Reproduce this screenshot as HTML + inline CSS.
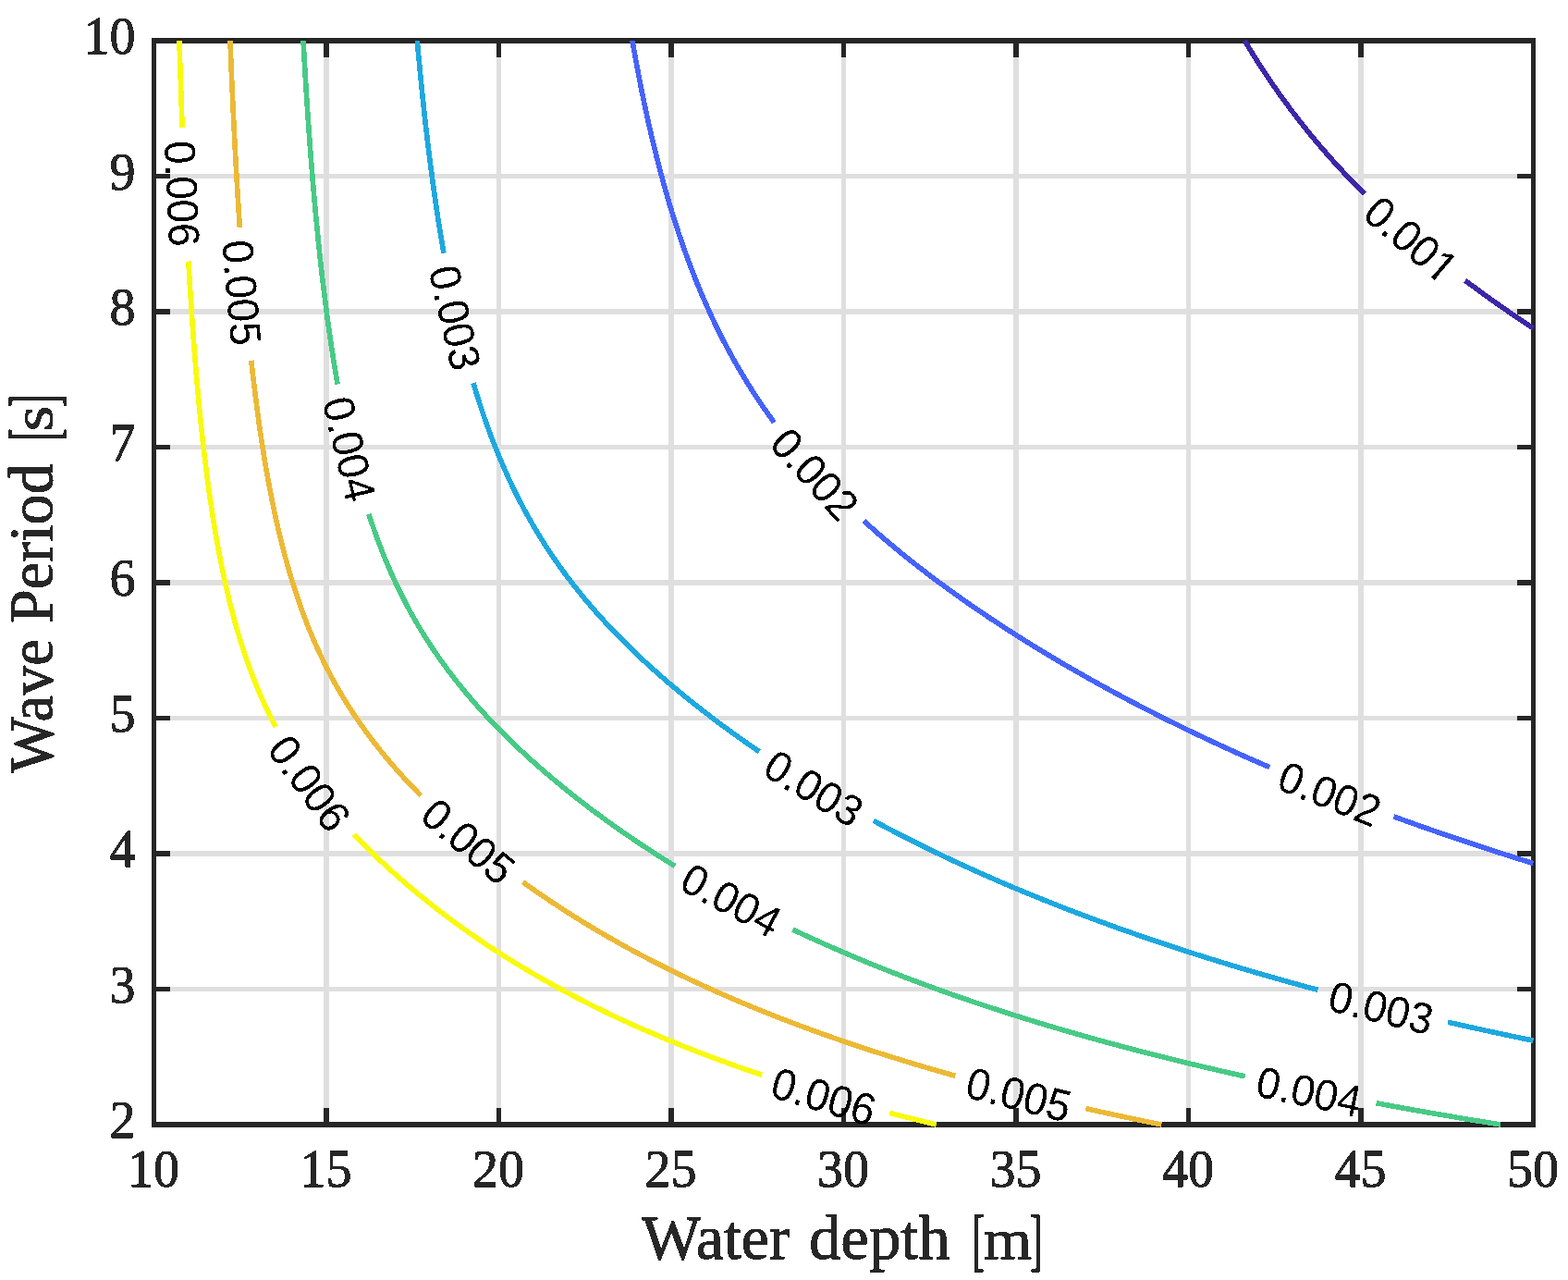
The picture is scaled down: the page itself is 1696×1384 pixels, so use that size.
<!DOCTYPE html>
<html><head><meta charset="utf-8"><title>Wave contour</title><style>html,body{margin:0;padding:0;background:#fff;}svg{display:block;}</style></head><body>
<svg width="1696" height="1384" viewBox="0 0 1696 1384" shape-rendering="crispEdges">
<defs><filter id="bin" filterUnits="userSpaceOnUse" x="0" y="0" width="1696" height="1384"><feComponentTransfer><feFuncA type="discrete" tableValues="0 1"/></feComponentTransfer></filter><clipPath id="c"><rect x="166.50" y="44.00" width="1492.00" height="1172.00"/></clipPath></defs>
<rect width="1696" height="1384" fill="#fff"/>
<path d="M353.00 44.00V1216.00 M539.50 44.00V1216.00 M726.00 44.00V1216.00 M912.50 44.00V1216.00 M1099.00 44.00V1216.00 M1285.50 44.00V1216.00 M1472.00 44.00V1216.00 M166.50 1069.50H1658.50 M166.50 923.00H1658.50 M166.50 776.50H1658.50 M166.50 630.00H1658.50 M166.50 483.50H1658.50 M166.50 337.00H1658.50 M166.50 190.50H1658.50" stroke="#DFDFDF" stroke-width="5.3" fill="none"/>
<path d="M353.00 1216.00V1198.30 M353.00 44.00V61.70 M539.50 1216.00V1198.30 M539.50 44.00V61.70 M726.00 1216.00V1198.30 M726.00 44.00V61.70 M912.50 1216.00V1198.30 M912.50 44.00V61.70 M1099.00 1216.00V1198.30 M1099.00 44.00V61.70 M1285.50 1216.00V1198.30 M1285.50 44.00V61.70 M1472.00 1216.00V1198.30 M1472.00 44.00V61.70 M166.50 1069.50H184.20 M1658.50 1069.50H1640.80 M166.50 923.00H184.20 M1658.50 923.00H1640.80 M166.50 776.50H184.20 M1658.50 776.50H1640.80 M166.50 630.00H184.20 M1658.50 630.00H1640.80 M166.50 483.50H184.20 M1658.50 483.50H1640.80 M166.50 337.00H184.20 M1658.50 337.00H1640.80 M166.50 190.50H184.20 M1658.50 190.50H1640.80" stroke="#262626" stroke-width="5.3" fill="none"/>
<rect x="166.50" y="44.00" width="1492.00" height="1172.00" fill="none" stroke="#262626" stroke-width="5.3"/>
<g fill="none" stroke-width="5.6" stroke-linejoin="round">
<path d="M1658.50 355.02 L1657.24 354.19 L1655.98 353.36 L1654.73 352.53 L1653.48 351.70 L1652.15 350.82 L1650.82 349.94 L1649.50 349.06 L1648.18 348.18 L1646.87 347.30 L1645.55 346.41 L1644.24 345.53 L1642.94 344.65 L1641.63 343.77 L1640.33 342.89 L1639.03 342.01 L1637.74 341.13 L1636.44 340.25 L1635.15 339.36 L1633.87 338.48 L1632.58 337.60 L1631.30 336.72 L1630.02 335.84 L1628.75 334.96 L1627.48 334.08 L1626.21 333.20 L1624.94 332.32 L1623.68 331.43 L1622.41 330.55 L1621.16 329.67 L1619.90 328.79 L1618.65 327.91 L1617.40 327.03 L1616.15 326.15 L1614.91 325.27 L1613.67 324.38 L1612.43 323.50 L1611.20 322.62 L1609.97 321.74 L1608.74 320.86 L1607.51 319.98 L1606.29 319.10 L1605.07 318.22 L1603.85 317.33 L1602.64 316.45 L1601.35 315.52 L1600.07 314.59 L1598.80 313.65 L1597.52 312.72 L1596.25 311.79 L1594.99 310.85 L1593.72 309.92 L1592.46 308.99 L1591.21 308.06 L1589.95 307.12 L1588.70 306.19 L1587.45 305.26 L1586.21 304.32 L1584.97 303.39 L1584.90 303.34" stroke="#3E26A8"/>
<path d="M1475.76 209.51 L1474.67 208.43 L1473.58 207.34 L1472.50 206.25 L1471.41 205.16 L1470.34 204.07 L1469.26 202.98 L1468.19 201.89 L1467.12 200.81 L1466.06 199.72 L1465.00 198.63 L1463.94 197.54 L1462.89 196.45 L1461.84 195.36 L1460.79 194.27 L1459.75 193.19 L1458.71 192.10 L1457.68 191.01 L1456.60 189.87 L1455.52 188.73 L1454.45 187.59 L1453.38 186.45 L1452.32 185.31 L1451.25 184.17 L1450.20 183.03 L1449.14 181.89 L1448.09 180.74 L1447.05 179.60 L1446.01 178.46 L1444.97 177.32 L1443.93 176.18 L1442.90 175.04 L1441.88 173.90 L1440.85 172.76 L1439.83 171.62 L1438.82 170.48 L1437.81 169.34 L1436.80 168.20 L1435.79 167.06 L1434.79 165.92 L1433.79 164.78 L1432.80 163.64 L1431.81 162.50 L1430.82 161.36 L1429.84 160.22 L1428.86 159.08 L1427.88 157.94 L1426.87 156.74 L1425.85 155.55 L1424.85 154.36 L1423.84 153.17 L1422.84 151.98 L1421.84 150.78 L1420.85 149.59 L1419.86 148.40 L1418.87 147.21 L1417.89 146.01 L1416.91 144.82 L1415.94 143.63 L1414.97 142.44 L1414.00 141.25 L1413.04 140.05 L1412.08 138.86 L1411.12 137.67 L1410.17 136.48 L1409.22 135.28 L1408.27 134.09 L1407.33 132.90 L1406.39 131.71 L1405.46 130.52 L1404.53 129.32 L1403.60 128.13 L1402.68 126.94 L1401.76 125.75 L1400.84 124.55 L1399.93 123.36 L1398.98 122.12 L1398.03 120.87 L1397.09 119.63 L1396.15 118.39 L1395.22 117.14 L1394.29 115.90 L1393.36 114.65 L1392.44 113.41 L1391.52 112.17 L1390.60 110.92 L1389.69 109.68 L1388.78 108.43 L1387.88 107.19 L1386.97 105.94 L1386.08 104.70 L1385.18 103.46 L1384.29 102.21 L1383.40 100.97 L1382.52 99.72 L1381.64 98.48 L1380.76 97.24 L1379.89 95.99 L1379.02 94.75 L1378.15 93.50 L1377.29 92.26 L1376.43 91.02 L1375.57 89.77 L1374.72 88.53 L1373.87 87.28 L1373.03 86.04 L1372.18 84.80 L1371.34 83.55 L1370.47 82.26 L1369.60 80.96 L1368.74 79.66 L1367.88 78.37 L1367.02 77.07 L1366.17 75.78 L1365.32 74.48 L1364.47 73.18 L1363.63 71.89 L1362.79 70.59 L1361.96 69.30 L1361.12 68.00 L1360.29 66.70 L1359.47 65.41 L1358.65 64.11 L1357.83 62.82 L1357.01 61.52 L1356.20 60.22 L1355.39 58.93 L1354.58 57.63 L1353.78 56.34 L1352.98 55.04 L1352.18 53.75 L1351.39 52.45 L1350.60 51.15 L1349.82 49.86 L1349.03 48.56 L1348.25 47.27 L1347.47 45.97 L1346.70 44.67 L1346.30 44.00" stroke="#3E26A8"/>
<path d="M1658.50 933.55 L1657.06 933.10 L1655.62 932.66 L1654.19 932.21 L1652.75 931.77 L1650.84 931.18 L1648.94 930.58 L1647.04 929.99 L1645.14 929.40 L1643.25 928.80 L1641.36 928.21 L1639.48 927.62 L1637.60 927.02 L1635.72 926.43 L1633.85 925.84 L1631.98 925.25 L1630.11 924.65 L1628.25 924.06 L1626.39 923.47 L1624.54 922.87 L1622.69 922.28 L1620.84 921.69 L1619.00 921.09 L1617.16 920.50 L1615.32 919.91 L1613.49 919.32 L1611.66 918.72 L1609.84 918.13 L1608.02 917.54 L1606.20 916.94 L1604.39 916.35 L1602.58 915.76 L1600.77 915.16 L1598.97 914.57 L1597.17 913.98 L1595.37 913.38 L1593.58 912.79 L1591.79 912.20 L1590.01 911.61 L1588.22 911.01 L1586.45 910.42 L1584.67 909.83 L1582.90 909.23 L1581.13 908.64 L1579.37 908.05 L1577.61 907.45 L1575.85 906.86 L1574.10 906.27 L1572.35 905.68 L1570.60 905.08 L1568.86 904.49 L1567.12 903.90 L1565.38 903.30 L1563.65 902.71 L1561.92 902.12 L1560.19 901.52 L1558.47 900.93 L1556.75 900.34 L1555.04 899.75 L1553.32 899.15 L1551.61 898.56 L1549.91 897.97 L1548.20 897.37 L1546.51 896.78 L1544.81 896.19 L1543.12 895.59 L1541.43 895.00 L1539.74 894.41 L1538.06 893.81 L1536.38 893.22 L1534.70 892.63 L1533.03 892.04 L1531.36 891.44 L1529.69 890.85 L1528.03 890.26 L1526.36 889.66 L1524.71 889.07 L1523.05 888.48 L1521.40 887.88 L1519.75 887.29 L1518.11 886.70 L1516.47 886.11 L1514.83 885.51 L1513.19 884.92 L1511.56 884.33 L1509.93 883.73 L1508.31 883.14 L1507.49 882.84" stroke="#4563FA"/>
<path d="M1373.23 829.62 L1371.51 828.88 L1369.79 828.14 L1368.08 827.40 L1366.37 826.65 L1364.66 825.91 L1362.96 825.17 L1361.26 824.43 L1359.56 823.69 L1357.87 822.95 L1356.18 822.21 L1354.50 821.46 L1352.81 820.72 L1351.14 819.98 L1349.46 819.24 L1347.79 818.50 L1346.13 817.76 L1344.46 817.02 L1342.80 816.28 L1341.15 815.53 L1339.50 814.79 L1337.85 814.05 L1336.20 813.31 L1334.56 812.57 L1332.92 811.83 L1331.29 811.09 L1329.66 810.35 L1328.03 809.60 L1326.40 808.86 L1324.78 808.12 L1323.16 807.38 L1321.55 806.64 L1319.94 805.90 L1318.33 805.16 L1316.73 804.42 L1315.13 803.67 L1313.53 802.93 L1311.94 802.19 L1310.35 801.45 L1308.76 800.71 L1307.18 799.97 L1305.59 799.23 L1304.02 798.48 L1302.44 797.74 L1300.87 797.00 L1299.31 796.26 L1297.74 795.52 L1296.18 794.78 L1294.62 794.04 L1293.07 793.30 L1291.52 792.55 L1289.97 791.81 L1288.42 791.07 L1286.88 790.33 L1285.34 789.59 L1283.81 788.85 L1282.28 788.11 L1280.75 787.37 L1279.22 786.62 L1277.70 785.88 L1276.18 785.14 L1274.66 784.40 L1273.15 783.66 L1271.64 782.92 L1270.13 782.18 L1268.63 781.44 L1267.13 780.69 L1265.63 779.95 L1264.14 779.21 L1262.64 778.47 L1261.16 777.73 L1259.67 776.99 L1258.19 776.25 L1256.71 775.50 L1255.23 774.76 L1253.76 774.02 L1252.29 773.28 L1250.82 772.54 L1249.35 771.80 L1247.89 771.06 L1246.43 770.32 L1244.98 769.57 L1243.52 768.83 L1242.07 768.09 L1240.63 767.35 L1239.18 766.61 L1237.74 765.87 L1236.30 765.13 L1234.87 764.39 L1233.43 763.64 L1232.00 762.90 L1230.58 762.16 L1229.15 761.42 L1227.73 760.68 L1226.31 759.94 L1224.90 759.20 L1223.49 758.46 L1222.08 757.71 L1220.67 756.97 L1219.26 756.23 L1217.86 755.49 L1216.46 754.75 L1215.07 754.01 L1213.67 753.27 L1212.28 752.52 L1210.90 751.78 L1209.51 751.04 L1208.13 750.30 L1206.75 749.56 L1205.37 748.82 L1204.00 748.08 L1202.63 747.34 L1201.26 746.59 L1199.89 745.85 L1198.53 745.11 L1197.17 744.37 L1195.81 743.63 L1194.46 742.89 L1193.10 742.15 L1191.75 741.41 L1190.41 740.66 L1189.06 739.92 L1187.72 739.18 L1186.38 738.44 L1185.04 737.70 L1183.71 736.96 L1182.38 736.22 L1181.05 735.48 L1179.72 734.73 L1178.40 733.99 L1177.08 733.25 L1175.76 732.51 L1174.44 731.77 L1173.13 731.03 L1171.82 730.29 L1170.51 729.54 L1169.20 728.80 L1167.64 727.91 L1166.08 727.02 L1164.52 726.14 L1162.97 725.25 L1161.42 724.36 L1159.88 723.47 L1158.33 722.58 L1156.80 721.69 L1155.26 720.80 L1153.73 719.91 L1152.20 719.02 L1150.68 718.13 L1149.16 717.24 L1147.64 716.35 L1146.13 715.46 L1144.62 714.57 L1143.11 713.68 L1141.61 712.79 L1140.11 711.90 L1138.61 711.01 L1137.12 710.12 L1135.63 709.23 L1134.15 708.34 L1132.66 707.45 L1131.19 706.57 L1129.71 705.68 L1128.24 704.79 L1126.77 703.90 L1125.30 703.01 L1123.84 702.12 L1122.38 701.23 L1120.93 700.34 L1119.48 699.45 L1118.03 698.56 L1116.59 697.67 L1115.14 696.78 L1113.71 695.89 L1112.27 695.00 L1110.84 694.11 L1109.41 693.22 L1107.99 692.33 L1106.57 691.44 L1105.15 690.55 L1103.73 689.66 L1102.32 688.77 L1100.91 687.88 L1099.51 686.99 L1098.11 686.11 L1096.71 685.22 L1095.31 684.33 L1093.92 683.44 L1092.53 682.55 L1091.15 681.66 L1089.77 680.77 L1088.39 679.88 L1087.01 678.99 L1085.64 678.10 L1084.27 677.21 L1082.91 676.32 L1081.54 675.43 L1080.18 674.54 L1078.83 673.65 L1077.47 672.76 L1076.12 671.87 L1074.78 670.98 L1073.43 670.09 L1072.09 669.20 L1070.76 668.31 L1069.42 667.42 L1068.09 666.54 L1066.77 665.65 L1065.44 664.76 L1064.12 663.87 L1062.80 662.98 L1061.49 662.09 L1060.17 661.20 L1058.87 660.31 L1057.56 659.42 L1056.26 658.53 L1054.96 657.64 L1053.66 656.75 L1052.37 655.86 L1051.08 654.97 L1049.79 654.08 L1048.51 653.19 L1047.23 652.30 L1045.95 651.41 L1044.68 650.52 L1043.41 649.63 L1042.14 648.74 L1040.87 647.85 L1039.61 646.97 L1038.35 646.08 L1037.10 645.19 L1035.84 644.30 L1034.59 643.41 L1033.35 642.52 L1032.10 641.63 L1030.86 640.74 L1029.63 639.85 L1028.39 638.96 L1027.16 638.07 L1025.93 637.18 L1024.71 636.29 L1023.48 635.40 L1022.27 634.51 L1021.05 633.62 L1019.84 632.73 L1018.63 631.84 L1017.22 630.81 L1015.82 629.77 L1014.42 628.73 L1013.02 627.69 L1011.63 626.65 L1010.24 625.62 L1008.86 624.58 L1007.48 623.54 L1006.11 622.50 L1004.74 621.46 L1003.37 620.43 L1002.01 619.39 L1000.65 618.35 L999.30 617.31 L997.95 616.28 L996.60 615.24 L995.26 614.20 L993.92 613.16 L992.59 612.12 L991.26 611.09 L989.94 610.05 L988.62 609.01 L987.30 607.97 L985.99 606.94 L984.68 605.90 L983.37 604.86 L982.07 603.82 L980.78 602.78 L979.49 601.75 L978.20 600.71 L976.91 599.67 L975.63 598.63 L974.36 597.60 L973.09 596.56 L971.82 595.52 L970.55 594.48 L969.29 593.44 L968.04 592.41 L966.79 591.37 L965.54 590.33 L964.30 589.29 L963.06 588.26 L961.82 587.22 L960.59 586.18 L959.36 585.14 L958.14 584.10 L956.92 583.07 L955.71 582.03 L954.50 580.99 L953.29 579.95 L952.09 578.91 L950.89 577.88 L949.69 576.84 L948.50 575.80 L947.32 574.76 L946.13 573.73 L944.96 572.69 L943.78 571.65 L942.61 570.61 L941.44 569.57 L940.28 568.54 L939.12 567.50 L937.97 566.46 L936.82 565.42 L935.67 564.39 L934.53 563.35 L934.37 563.20" stroke="#4563FA"/>
<path d="M837.39 456.75 L836.41 455.42 L835.43 454.08 L834.46 452.75 L833.50 451.41 L832.53 450.08 L831.58 448.74 L830.63 447.41 L829.68 446.08 L828.74 444.74 L827.81 443.41 L826.88 442.07 L825.95 440.74 L825.03 439.40 L824.12 438.07 L823.21 436.74 L822.30 435.40 L821.40 434.07 L820.51 432.73 L819.62 431.40 L818.73 430.06 L817.85 428.73 L816.97 427.40 L816.10 426.06 L815.23 424.73 L814.37 423.39 L813.51 422.06 L812.66 420.72 L811.81 419.39 L810.97 418.05 L810.13 416.72 L809.29 415.39 L808.46 414.05 L807.63 412.72 L806.81 411.38 L805.99 410.05 L805.18 408.71 L804.37 407.38 L803.57 406.05 L802.77 404.71 L801.97 403.38 L801.18 402.04 L800.39 400.71 L799.61 399.37 L798.83 398.04 L798.06 396.71 L797.29 395.37 L796.52 394.04 L795.76 392.70 L795.00 391.37 L794.25 390.03 L793.50 388.70 L792.75 387.37 L792.01 386.03 L791.27 384.70 L790.53 383.36 L789.80 382.03 L789.08 380.69 L788.35 379.36 L787.64 378.03 L786.92 376.69 L786.21 375.36 L785.50 374.02 L784.80 372.69 L784.10 371.35 L783.40 370.02 L782.71 368.69 L782.02 367.35 L781.34 366.02 L780.58 364.53 L779.83 363.05 L779.08 361.57 L778.33 360.09 L777.59 358.60 L776.86 357.12 L776.13 355.64 L775.40 354.16 L774.68 352.67 L773.96 351.19 L773.24 349.71 L772.53 348.23 L771.83 346.74 L771.13 345.26 L770.43 343.78 L769.73 342.30 L769.04 340.81 L768.36 339.33 L767.68 337.85 L767.00 336.36 L766.32 334.88 L765.65 333.40 L764.99 331.92 L764.32 330.43 L763.67 328.95 L763.01 327.47 L762.36 325.99 L761.71 324.50 L761.07 323.02 L760.43 321.54 L759.79 320.06 L759.16 318.57 L758.53 317.09 L757.90 315.61 L757.28 314.13 L756.66 312.64 L756.04 311.16 L755.43 309.68 L754.82 308.20 L754.22 306.71 L753.62 305.23 L753.02 303.75 L752.42 302.27 L751.83 300.78 L751.24 299.30 L750.66 297.82 L750.07 296.34 L749.49 294.85 L748.92 293.37 L748.35 291.89 L747.78 290.40 L747.21 288.92 L746.65 287.44 L746.09 285.96 L745.53 284.47 L744.98 282.99 L744.42 281.51 L743.88 280.03 L743.33 278.54 L742.79 277.06 L742.25 275.58 L741.71 274.10 L741.18 272.61 L740.65 271.13 L740.12 269.65 L739.60 268.17 L739.08 266.68 L738.56 265.20 L738.04 263.72 L737.53 262.24 L737.02 260.75 L736.51 259.27 L736.00 257.79 L735.50 256.31 L735.00 254.82 L734.50 253.34 L734.01 251.86 L733.51 250.38 L733.03 248.89 L732.54 247.41 L732.05 245.93 L731.57 244.44 L731.09 242.96 L730.61 241.48 L730.14 240.00 L729.67 238.51 L729.20 237.03 L728.73 235.55 L728.27 234.07 L727.80 232.58 L727.34 231.10 L726.89 229.62 L726.43 228.14 L725.98 226.65 L725.53 225.17 L725.08 223.69 L724.63 222.21 L724.19 220.72 L723.75 219.24 L723.31 217.76 L722.87 216.28 L722.44 214.79 L722.01 213.31 L721.58 211.83 L721.15 210.35 L720.72 208.86 L720.30 207.38 L719.88 205.90 L719.46 204.42 L719.04 202.93 L718.62 201.45 L718.21 199.97 L717.80 198.48 L717.39 197.00 L716.98 195.52 L716.58 194.04 L716.17 192.55 L715.77 191.07 L715.37 189.59 L714.97 188.11 L714.58 186.62 L714.19 185.14 L713.79 183.66 L713.40 182.18 L713.02 180.69 L712.63 179.21 L712.25 177.73 L711.86 176.25 L711.48 174.76 L711.11 173.28 L710.73 171.80 L710.35 170.32 L709.98 168.83 L709.61 167.35 L709.24 165.87 L708.87 164.39 L708.51 162.90 L708.14 161.42 L707.78 159.94 L707.42 158.46 L707.06 156.97 L706.70 155.49 L706.35 154.01 L705.99 152.52 L705.64 151.04 L705.29 149.56 L704.94 148.08 L704.60 146.59 L704.25 145.11 L703.91 143.63 L703.56 142.15 L703.22 140.66 L702.88 139.18 L702.54 137.70 L702.21 136.22 L701.87 134.73 L701.54 133.25 L701.21 131.77 L700.88 130.29 L700.55 128.80 L700.22 127.32 L699.90 125.84 L699.57 124.36 L699.25 122.87 L698.93 121.39 L698.61 119.91 L698.29 118.43 L697.98 116.94 L697.66 115.46 L697.35 113.98 L697.03 112.50 L696.72 111.01 L696.41 109.53 L696.11 108.05 L695.80 106.56 L695.49 105.08 L695.19 103.60 L694.89 102.12 L694.58 100.63 L694.28 99.15 L693.99 97.67 L693.69 96.19 L693.39 94.70 L693.10 93.22 L692.80 91.74 L692.51 90.26 L692.22 88.77 L691.93 87.29 L691.64 85.81 L691.36 84.33 L691.07 82.84 L690.78 81.36 L690.50 79.88 L690.22 78.40 L689.94 76.91 L689.66 75.43 L689.38 73.95 L689.10 72.47 L688.83 70.98 L688.55 69.50 L688.28 68.02 L688.00 66.54 L687.73 65.05 L687.46 63.57 L687.19 62.09 L686.93 60.60 L686.66 59.12 L686.39 57.64 L686.13 56.16 L685.86 54.67 L685.60 53.19 L685.34 51.71 L685.08 50.23 L684.82 48.74 L684.56 47.26 L684.31 45.78 L684.05 44.30 L684.00 44.00" stroke="#4563FA"/>
<path d="M1658.50 1125.17 L1656.75 1124.81 L1655.00 1124.45 L1653.26 1124.09 L1651.52 1123.73 L1649.78 1123.37 L1648.05 1123.01 L1646.32 1122.65 L1644.59 1122.29 L1642.87 1121.93 L1641.14 1121.57 L1639.43 1121.21 L1637.71 1120.85 L1636.00 1120.48 L1634.29 1120.12 L1632.59 1119.76 L1630.88 1119.40 L1629.19 1119.04 L1627.49 1118.68 L1625.80 1118.32 L1624.11 1117.96 L1622.42 1117.60 L1620.74 1117.24 L1619.06 1116.88 L1617.38 1116.52 L1615.71 1116.16 L1614.04 1115.80 L1612.37 1115.44 L1610.70 1115.08 L1609.04 1114.72 L1607.38 1114.36 L1605.73 1114.00 L1604.07 1113.64 L1602.42 1113.28 L1600.78 1112.92 L1599.13 1112.56 L1597.49 1112.20 L1595.86 1111.84 L1594.22 1111.48 L1592.59 1111.11 L1590.96 1110.75 L1589.33 1110.39 L1587.71 1110.03 L1586.09 1109.67 L1584.47 1109.31 L1582.86 1108.95 L1581.25 1108.59 L1579.64 1108.23 L1578.04 1107.87 L1576.43 1107.51 L1574.83 1107.15 L1573.24 1106.79 L1571.64 1106.43 L1570.05 1106.07 L1568.46 1105.71 L1566.88 1105.35 L1566.09 1105.17" stroke="#1EA8DF"/>
<path d="M1425.47 1070.39 L1423.46 1069.85 L1421.45 1069.31 L1419.45 1068.77 L1417.46 1068.23 L1415.47 1067.69 L1413.48 1067.15 L1411.50 1066.61 L1409.53 1066.07 L1407.56 1065.53 L1405.59 1064.98 L1403.63 1064.44 L1401.67 1063.90 L1399.72 1063.36 L1397.77 1062.82 L1395.83 1062.28 L1393.89 1061.74 L1391.96 1061.20 L1390.03 1060.66 L1388.11 1060.12 L1386.19 1059.58 L1384.27 1059.04 L1382.36 1058.50 L1380.46 1057.96 L1378.56 1057.42 L1376.66 1056.88 L1374.77 1056.34 L1372.88 1055.79 L1371.00 1055.25 L1369.12 1054.71 L1367.25 1054.17 L1365.38 1053.63 L1363.51 1053.09 L1361.65 1052.55 L1359.80 1052.01 L1357.95 1051.47 L1356.10 1050.93 L1354.26 1050.39 L1352.42 1049.85 L1350.58 1049.31 L1348.75 1048.77 L1346.93 1048.23 L1345.11 1047.69 L1343.29 1047.15 L1341.48 1046.60 L1339.67 1046.06 L1337.86 1045.52 L1336.06 1044.98 L1334.27 1044.44 L1332.48 1043.90 L1330.69 1043.36 L1328.90 1042.82 L1327.12 1042.28 L1325.35 1041.74 L1323.58 1041.20 L1321.81 1040.66 L1320.05 1040.12 L1318.29 1039.58 L1316.53 1039.04 L1314.78 1038.50 L1313.04 1037.96 L1311.29 1037.42 L1309.55 1036.87 L1307.82 1036.33 L1306.09 1035.79 L1304.36 1035.25 L1302.64 1034.71 L1300.92 1034.17 L1299.20 1033.63 L1297.49 1033.09 L1295.79 1032.55 L1294.08 1032.01 L1292.38 1031.47 L1290.69 1030.93 L1289.00 1030.39 L1287.31 1029.85 L1285.62 1029.31 L1283.94 1028.77 L1282.27 1028.23 L1280.59 1027.68 L1278.92 1027.14 L1277.26 1026.60 L1275.60 1026.06 L1273.94 1025.52 L1272.28 1024.98 L1270.63 1024.44 L1268.99 1023.90 L1267.34 1023.36 L1265.70 1022.82 L1264.07 1022.28 L1262.43 1021.74 L1260.80 1021.20 L1259.18 1020.66 L1257.56 1020.12 L1255.94 1019.58 L1254.33 1019.04 L1252.71 1018.49 L1251.11 1017.95 L1249.50 1017.41 L1247.90 1016.87 L1246.31 1016.33 L1244.71 1015.79 L1243.12 1015.25 L1241.54 1014.71 L1239.95 1014.17 L1238.37 1013.63 L1236.80 1013.09 L1235.23 1012.55 L1233.66 1012.01 L1232.09 1011.47 L1230.53 1010.93 L1228.97 1010.39 L1227.41 1009.85 L1225.86 1009.30 L1224.31 1008.76 L1222.77 1008.22 L1221.23 1007.68 L1219.69 1007.14 L1218.15 1006.60 L1216.62 1006.06 L1215.09 1005.52 L1213.56 1004.98 L1212.04 1004.44 L1210.52 1003.90 L1209.01 1003.36 L1207.50 1002.82 L1205.99 1002.28 L1204.48 1001.74 L1202.98 1001.20 L1201.48 1000.66 L1199.98 1000.11 L1198.49 999.57 L1197.00 999.03 L1195.51 998.49 L1194.03 997.95 L1192.54 997.41 L1191.07 996.87 L1189.59 996.33 L1188.12 995.79 L1186.65 995.25 L1185.19 994.71 L1183.73 994.17 L1182.27 993.63 L1180.81 993.09 L1179.36 992.55 L1177.91 992.01 L1176.46 991.47 L1175.02 990.92 L1173.58 990.38 L1172.14 989.84 L1170.70 989.30 L1169.27 988.76 L1167.84 988.22 L1166.42 987.68 L1164.99 987.14 L1163.57 986.60 L1162.16 986.06 L1160.74 985.52 L1159.33 984.98 L1157.92 984.44 L1156.52 983.90 L1155.11 983.36 L1153.71 982.82 L1151.85 982.10 L1149.99 981.37 L1148.14 980.65 L1146.30 979.93 L1144.45 979.21 L1142.62 978.49 L1140.79 977.77 L1138.96 977.05 L1137.14 976.33 L1135.32 975.61 L1133.51 974.89 L1131.70 974.17 L1129.90 973.45 L1128.10 972.73 L1126.31 972.00 L1124.52 971.28 L1122.74 970.56 L1120.96 969.84 L1119.19 969.12 L1117.42 968.40 L1115.66 967.68 L1113.90 966.96 L1112.14 966.24 L1110.39 965.52 L1108.65 964.80 L1106.91 964.08 L1105.17 963.35 L1103.44 962.63 L1101.71 961.91 L1099.99 961.19 L1098.27 960.47 L1096.56 959.75 L1094.85 959.03 L1093.14 958.31 L1091.44 957.59 L1089.75 956.87 L1088.06 956.15 L1086.37 955.43 L1084.69 954.71 L1083.01 953.98 L1081.34 953.26 L1079.67 952.54 L1078.00 951.82 L1076.34 951.10 L1074.69 950.38 L1073.03 949.66 L1071.39 948.94 L1069.74 948.22 L1068.10 947.50 L1066.47 946.78 L1064.84 946.06 L1063.21 945.34 L1061.59 944.61 L1059.97 943.89 L1058.35 943.17 L1056.74 942.45 L1055.14 941.73 L1053.54 941.01 L1051.94 940.29 L1050.34 939.57 L1048.75 938.85 L1047.17 938.13 L1045.59 937.41 L1044.01 936.69 L1042.43 935.97 L1040.86 935.24 L1039.30 934.52 L1037.74 933.80 L1036.18 933.08 L1034.62 932.36 L1033.07 931.64 L1031.53 930.92 L1029.98 930.20 L1028.44 929.48 L1026.91 928.76 L1025.38 928.04 L1023.85 927.32 L1022.33 926.60 L1020.81 925.87 L1019.29 925.15 L1017.78 924.43 L1016.27 923.71 L1014.76 922.99 L1013.26 922.27 L1011.77 921.55 L1010.27 920.83 L1008.78 920.11 L1007.29 919.39 L1005.81 918.67 L1004.33 917.95 L1002.86 917.22 L1001.38 916.50 L999.92 915.78 L998.45 915.06 L996.99 914.34 L995.53 913.62 L994.08 912.90 L992.63 912.18 L991.18 911.46 L989.73 910.74 L988.29 910.02 L986.86 909.30 L985.42 908.58 L983.99 907.85 L982.57 907.13 L981.14 906.41 L979.72 905.69 L978.31 904.97 L976.89 904.25 L975.48 903.53 L974.08 902.81 L972.67 902.09 L971.28 901.37 L969.88 900.65 L968.49 899.93 L967.10 899.21 L965.71 898.48 L964.33 897.76 L962.95 897.04 L961.57 896.32 L960.20 895.60 L958.83 894.88 L957.46 894.16 L956.09 893.44 L954.73 892.72 L953.38 892.00 L952.02 891.28 L950.67 890.56 L949.32 889.84 L947.98 889.11 L946.64 888.39 L945.30 887.67 L944.96 887.49" stroke="#1EA8DF"/>
<path d="M821.32 812.71 L819.99 811.81 L818.67 810.91 L817.35 810.01 L816.04 809.11 L814.73 808.21 L813.42 807.31 L812.12 806.41 L810.82 805.50 L809.52 804.60 L808.23 803.70 L806.94 802.80 L805.65 801.90 L804.37 801.00 L803.09 800.10 L801.81 799.20 L800.54 798.30 L799.27 797.40 L798.01 796.49 L796.75 795.59 L795.49 794.69 L794.23 793.79 L792.98 792.89 L791.73 791.99 L790.49 791.09 L789.24 790.19 L788.00 789.29 L786.77 788.39 L785.54 787.48 L784.31 786.58 L783.08 785.68 L781.86 784.78 L780.64 783.88 L779.43 782.98 L778.22 782.08 L777.01 781.18 L775.80 780.28 L774.60 779.38 L773.16 778.29 L771.73 777.21 L770.30 776.13 L768.88 775.05 L767.46 773.97 L766.04 772.89 L764.63 771.81 L763.23 770.73 L761.83 769.65 L760.43 768.56 L759.04 767.48 L757.66 766.40 L756.27 765.32 L754.90 764.24 L753.52 763.16 L752.16 762.08 L750.79 761.00 L749.43 759.91 L748.08 758.83 L746.73 757.75 L745.38 756.67 L744.04 755.59 L742.71 754.51 L741.38 753.43 L740.05 752.35 L738.73 751.27 L737.41 750.18 L736.10 749.10 L734.79 748.02 L733.48 746.94 L732.18 745.86 L730.89 744.78 L729.60 743.70 L728.31 742.62 L727.03 741.53 L725.75 740.45 L724.48 739.37 L723.21 738.29 L721.95 737.21 L720.69 736.13 L719.44 735.05 L718.19 733.97 L716.94 732.89 L715.70 731.80 L714.46 730.72 L713.23 729.64 L712.00 728.56 L710.78 727.48 L709.56 726.40 L708.35 725.32 L707.14 724.24 L705.93 723.15 L704.73 722.07 L703.54 720.99 L702.34 719.91 L701.16 718.83 L699.97 717.75 L698.79 716.67 L697.62 715.59 L696.45 714.51 L695.29 713.42 L694.12 712.34 L692.97 711.26 L691.82 710.18 L690.67 709.10 L689.53 708.02 L688.39 706.94 L687.25 705.86 L686.12 704.78 L685.00 703.69 L683.88 702.61 L682.76 701.53 L681.65 700.45 L680.54 699.37 L679.44 698.29 L678.34 697.21 L677.24 696.13 L676.15 695.04 L675.07 693.96 L673.98 692.88 L672.91 691.80 L671.83 690.72 L670.77 689.64 L669.70 688.56 L668.64 687.48 L667.59 686.40 L666.54 685.31 L665.49 684.23 L664.45 683.15 L663.24 681.89 L662.03 680.63 L660.83 679.37 L659.64 678.11 L658.45 676.84 L657.27 675.58 L656.10 674.32 L654.93 673.06 L653.76 671.80 L652.61 670.54 L651.45 669.28 L650.31 668.02 L649.17 666.75 L648.03 665.49 L646.90 664.23 L645.78 662.97 L644.66 661.71 L643.55 660.45 L642.45 659.19 L641.35 657.92 L640.25 656.66 L639.16 655.40 L638.08 654.14 L637.00 652.88 L635.93 651.62 L634.87 650.36 L633.81 649.09 L632.75 647.83 L631.70 646.57 L630.66 645.31 L629.62 644.05 L628.59 642.79 L627.56 641.53 L626.54 640.27 L625.52 639.00 L624.51 637.74 L623.51 636.48 L622.51 635.22 L621.52 633.96 L620.53 632.70 L619.54 631.44 L618.57 630.17 L617.59 628.91 L616.63 627.65 L615.67 626.39 L614.71 625.13 L613.76 623.87 L612.81 622.61 L611.87 621.34 L610.94 620.08 L610.01 618.82 L609.08 617.56 L608.16 616.30 L607.25 615.04 L606.34 613.78 L605.43 612.52 L604.54 611.25 L603.64 609.99 L602.75 608.73 L601.87 607.47 L600.99 606.21 L600.12 604.95 L599.25 603.69 L598.38 602.42 L597.52 601.16 L596.67 599.90 L595.82 598.64 L594.97 597.38 L594.13 596.12 L593.30 594.86 L592.47 593.59 L591.64 592.33 L590.82 591.07 L590.01 589.81 L589.08 588.37 L588.16 586.93 L587.25 585.49 L586.34 584.04 L585.43 582.60 L584.54 581.16 L583.65 579.72 L582.76 578.28 L581.88 576.84 L581.01 575.40 L580.14 573.95 L579.28 572.51 L578.43 571.07 L577.58 569.63 L576.73 568.19 L575.89 566.75 L575.06 565.30 L574.23 563.86 L573.41 562.42 L572.59 560.98 L571.78 559.54 L570.97 558.10 L570.17 556.65 L569.38 555.21 L568.59 553.77 L567.80 552.33 L567.02 550.89 L566.25 549.45 L565.48 548.01 L564.71 546.56 L563.95 545.12 L563.20 543.68 L562.45 542.24 L561.71 540.80 L560.97 539.36 L560.23 537.91 L559.50 536.47 L558.78 535.03 L558.06 533.59 L557.34 532.15 L556.63 530.71 L555.93 529.27 L555.22 527.82 L554.53 526.38 L553.84 524.94 L553.15 523.50 L552.47 522.06 L551.79 520.62 L551.11 519.17 L550.44 517.73 L549.78 516.29 L549.12 514.85 L548.46 513.41 L547.81 511.97 L547.16 510.52 L546.51 509.08 L545.88 507.64 L545.24 506.20 L544.61 504.76 L543.98 503.32 L543.36 501.88 L542.74 500.43 L542.12 498.99 L541.51 497.55 L540.90 496.11 L540.30 494.67 L539.70 493.23 L539.11 491.78 L538.51 490.34 L537.92 488.90 L537.34 487.46 L536.76 486.02 L536.18 484.58 L535.61 483.14 L535.04 481.69 L534.47 480.25 L533.91 478.81 L533.35 477.37 L532.80 475.93 L532.25 474.49 L531.70 473.04 L531.15 471.60 L530.61 470.16 L530.07 468.72 L529.54 467.28 L529.01 465.84 L528.48 464.39 L527.95 462.95 L527.43 461.51 L526.91 460.07 L526.40 458.63 L525.89 457.19 L525.38 455.75 L524.87 454.30 L524.37 452.86 L523.87 451.42 L523.38 449.98 L522.88 448.54 L522.39 447.10 L521.90 445.65 L521.42 444.21 L520.94 442.77 L520.46 441.33 L519.99 439.89 L519.51 438.45 L519.04 437.01 L518.58 435.56 L518.11 434.12 L517.65 432.68 L517.19 431.24 L516.74 429.80 L516.28 428.36 L515.83 426.91 L515.39 425.47 L514.94 424.03 L514.50 422.59 L514.06 421.15 L513.62 419.71 L513.19 418.27 L512.76 416.82 L512.33 415.38 L511.95 414.12" stroke="#1EA8DF"/>
<path d="M479.95 273.75 L479.67 272.13 L479.38 270.51 L479.11 268.88 L478.83 267.26 L478.55 265.64 L478.28 264.02 L478.00 262.40 L477.73 260.77 L477.46 259.15 L477.19 257.53 L476.92 255.91 L476.66 254.29 L476.39 252.67 L476.13 251.04 L475.87 249.42 L475.61 247.80 L475.35 246.18 L475.09 244.56 L474.83 242.94 L474.58 241.31 L474.32 239.69 L474.07 238.07 L473.82 236.45 L473.57 234.83 L473.32 233.20 L473.07 231.58 L472.83 229.96 L472.58 228.34 L472.34 226.72 L472.10 225.10 L471.86 223.47 L471.62 221.85 L471.38 220.23 L471.14 218.61 L470.91 216.99 L470.67 215.37 L470.44 213.74 L470.21 212.12 L469.97 210.50 L469.75 208.88 L469.52 207.26 L469.29 205.63 L469.06 204.01 L468.84 202.39 L468.61 200.77 L468.39 199.15 L468.17 197.53 L467.95 195.90 L467.73 194.28 L467.51 192.66 L467.29 191.04 L467.07 189.42 L466.86 187.80 L466.65 186.17 L466.43 184.55 L466.22 182.93 L466.01 181.31 L465.80 179.69 L465.59 178.07 L465.38 176.44 L465.17 174.82 L464.97 173.20 L464.76 171.58 L464.56 169.96 L464.36 168.33 L464.15 166.71 L463.95 165.09 L463.75 163.47 L463.55 161.85 L463.36 160.23 L463.16 158.60 L462.96 156.98 L462.77 155.36 L462.57 153.74 L462.38 152.12 L462.19 150.50 L461.99 148.87 L461.80 147.25 L461.61 145.63 L461.42 144.01 L461.24 142.39 L461.05 140.76 L460.86 139.14 L460.68 137.52 L460.49 135.90 L460.31 134.28 L460.13 132.66 L459.94 131.03 L459.76 129.41 L459.58 127.79 L459.40 126.17 L459.22 124.55 L459.05 122.93 L458.87 121.30 L458.69 119.68 L458.52 118.06 L458.34 116.44 L458.17 114.82 L458.00 113.19 L457.82 111.57 L457.65 109.95 L457.48 108.33 L457.31 106.71 L457.14 105.09 L456.97 103.46 L456.81 101.84 L456.64 100.22 L456.47 98.60 L456.31 96.98 L456.14 95.36 L455.98 93.73 L455.82 92.11 L455.65 90.49 L455.49 88.87 L455.33 87.25 L455.17 85.63 L455.01 84.00 L454.85 82.38 L454.69 80.76 L454.54 79.14 L454.38 77.52 L454.22 75.89 L454.07 74.27 L453.91 72.65 L453.76 71.03 L453.61 69.41 L453.45 67.79 L453.30 66.16 L453.15 64.54 L453.00 62.92 L452.85 61.30 L452.70 59.68 L452.55 58.06 L452.40 56.43 L452.25 54.81 L452.11 53.19 L451.96 51.57 L451.81 49.95 L451.67 48.32 L451.53 46.70 L451.38 45.08 L451.29 44.00" stroke="#1EA8DF"/>
<path d="M1623.06 1216.00 L1620.63 1215.61 L1618.20 1215.22 L1615.78 1214.83 L1613.36 1214.44 L1610.95 1214.05 L1608.55 1213.66 L1606.15 1213.27 L1603.76 1212.87 L1601.38 1212.48 L1599.00 1212.09 L1596.63 1211.70 L1594.26 1211.31 L1591.90 1210.92 L1589.55 1210.53 L1587.20 1210.14 L1584.86 1209.75 L1582.53 1209.36 L1580.20 1208.97 L1577.88 1208.58 L1575.56 1208.19 L1573.25 1207.80 L1570.95 1207.41 L1568.65 1207.01 L1566.35 1206.62 L1564.07 1206.23 L1561.79 1205.84 L1559.51 1205.45 L1557.24 1205.06 L1554.98 1204.67 L1552.72 1204.28 L1550.47 1203.89 L1548.22 1203.50 L1545.98 1203.11 L1543.75 1202.72 L1541.52 1202.33 L1539.30 1201.94 L1537.08 1201.55 L1534.87 1201.15 L1532.66 1200.76 L1530.46 1200.37 L1528.27 1199.98 L1526.08 1199.59 L1523.89 1199.20 L1521.71 1198.81 L1519.54 1198.42 L1517.37 1198.03 L1515.21 1197.64 L1513.06 1197.25 L1510.90 1196.86 L1508.76 1196.47 L1506.62 1196.08 L1504.48 1195.69 L1502.35 1195.29 L1500.23 1194.90 L1498.11 1194.51 L1495.99 1194.12 L1493.89 1193.73 L1491.78 1193.34 L1489.68 1192.95 L1488.64 1192.76" stroke="#48CA86"/>
<path d="M1346.71 1163.85 L1344.95 1163.46 L1343.20 1163.06 L1341.46 1162.67 L1339.71 1162.28 L1337.97 1161.89 L1336.24 1161.50 L1334.51 1161.11 L1332.78 1160.72 L1331.05 1160.33 L1329.33 1159.94 L1327.62 1159.55 L1325.90 1159.16 L1324.20 1158.77 L1322.49 1158.38 L1320.79 1157.99 L1319.09 1157.60 L1317.40 1157.20 L1315.71 1156.81 L1314.02 1156.42 L1312.34 1156.03 L1310.66 1155.64 L1308.99 1155.25 L1307.32 1154.86 L1305.65 1154.47 L1303.99 1154.08 L1302.33 1153.69 L1300.67 1153.30 L1299.02 1152.91 L1297.37 1152.52 L1295.72 1152.13 L1294.08 1151.74 L1292.44 1151.34 L1290.81 1150.95 L1289.18 1150.56 L1287.55 1150.17 L1285.92 1149.78 L1284.30 1149.39 L1282.69 1149.00 L1281.07 1148.61 L1279.46 1148.22 L1277.86 1147.83 L1276.25 1147.44 L1274.65 1147.05 L1273.06 1146.66 L1271.46 1146.27 L1269.87 1145.88 L1268.29 1145.48 L1266.71 1145.09 L1265.13 1144.70 L1263.55 1144.31 L1261.98 1143.92 L1260.41 1143.53 L1258.84 1143.14 L1257.28 1142.75 L1255.72 1142.36 L1254.17 1141.97 L1252.61 1141.58 L1251.07 1141.19 L1249.52 1140.80 L1247.98 1140.41 L1246.44 1140.02 L1244.90 1139.62 L1243.37 1139.23 L1241.84 1138.84 L1240.31 1138.45 L1238.79 1138.06 L1237.27 1137.67 L1235.75 1137.28 L1234.24 1136.89 L1232.73 1136.50 L1231.22 1136.11 L1229.72 1135.72 L1228.22 1135.33 L1226.72 1134.94 L1225.23 1134.55 L1223.73 1134.16 L1222.25 1133.76 L1220.76 1133.37 L1219.28 1132.98 L1217.80 1132.59 L1216.32 1132.20 L1214.85 1131.81 L1213.38 1131.42 L1211.91 1131.03 L1210.45 1130.64 L1208.99 1130.25 L1207.53 1129.86 L1206.08 1129.47 L1204.62 1129.08 L1203.18 1128.69 L1201.01 1128.10 L1198.85 1127.51 L1196.69 1126.93 L1194.54 1126.34 L1192.40 1125.76 L1190.27 1125.17 L1188.14 1124.58 L1186.02 1124.00 L1183.90 1123.41 L1181.79 1122.83 L1179.69 1122.24 L1177.60 1121.65 L1175.51 1121.07 L1173.42 1120.48 L1171.34 1119.90 L1169.27 1119.31 L1167.21 1118.72 L1165.15 1118.14 L1163.10 1117.55 L1161.05 1116.97 L1159.01 1116.38 L1156.98 1115.79 L1154.95 1115.21 L1152.93 1114.62 L1150.91 1114.04 L1148.90 1113.45 L1146.90 1112.86 L1144.90 1112.28 L1142.91 1111.69 L1140.92 1111.11 L1138.94 1110.52 L1136.97 1109.93 L1135.00 1109.35 L1133.03 1108.76 L1131.08 1108.18 L1129.12 1107.59 L1127.18 1107.00 L1125.24 1106.42 L1123.30 1105.83 L1121.37 1105.25 L1119.45 1104.66 L1117.53 1104.07 L1115.62 1103.49 L1113.71 1102.90 L1111.81 1102.32 L1109.92 1101.73 L1108.03 1101.14 L1106.14 1100.56 L1104.26 1099.97 L1102.39 1099.39 L1100.52 1098.80 L1098.65 1098.21 L1096.80 1097.63 L1094.94 1097.04 L1093.10 1096.46 L1091.25 1095.87 L1089.42 1095.28 L1087.58 1094.70 L1085.76 1094.11 L1083.93 1093.53 L1082.12 1092.94 L1080.31 1092.35 L1078.50 1091.77 L1076.70 1091.18 L1074.90 1090.60 L1073.11 1090.01 L1071.33 1089.42 L1069.54 1088.84 L1067.77 1088.25 L1066.00 1087.67 L1064.23 1087.08 L1062.47 1086.49 L1060.71 1085.91 L1058.96 1085.32 L1057.21 1084.74 L1055.47 1084.15 L1053.73 1083.56 L1052.00 1082.98 L1050.27 1082.39 L1048.55 1081.81 L1046.83 1081.22 L1045.12 1080.63 L1043.41 1080.05 L1041.70 1079.46 L1040.00 1078.88 L1038.31 1078.29 L1036.62 1077.70 L1034.93 1077.12 L1033.25 1076.53 L1031.58 1075.95 L1029.90 1075.36 L1028.24 1074.77 L1026.57 1074.19 L1024.91 1073.60 L1023.26 1073.02 L1021.61 1072.43 L1019.96 1071.84 L1018.32 1071.26 L1016.69 1070.67 L1015.05 1070.09 L1013.43 1069.50 L1011.80 1068.91 L1010.18 1068.33 L1008.57 1067.74 L1006.96 1067.16 L1005.35 1066.57 L1003.75 1065.98 L1002.15 1065.40 L1000.56 1064.81 L998.97 1064.23 L997.38 1063.64 L995.80 1063.05 L994.23 1062.47 L992.65 1061.88 L991.08 1061.30 L989.52 1060.71 L987.96 1060.12 L986.40 1059.54 L984.85 1058.95 L983.30 1058.37 L981.76 1057.78 L980.22 1057.19 L978.68 1056.61 L977.15 1056.02 L975.62 1055.44 L974.10 1054.85 L972.57 1054.26 L971.06 1053.68 L969.55 1053.09 L968.04 1052.51 L966.53 1051.92 L965.03 1051.33 L963.53 1050.75 L962.04 1050.16 L960.55 1049.58 L959.06 1048.99 L957.58 1048.40 L956.10 1047.82 L954.63 1047.23 L953.16 1046.65 L951.69 1046.06 L950.23 1045.47 L948.77 1044.89 L947.31 1044.30 L945.86 1043.72 L944.41 1043.13 L942.97 1042.54 L941.52 1041.96 L940.09 1041.37 L938.65 1040.79 L937.22 1040.20 L935.79 1039.61 L934.37 1039.03 L932.95 1038.44 L931.53 1037.86 L930.12 1037.27 L928.71 1036.68 L927.31 1036.10 L925.90 1035.51 L924.51 1034.93 L923.11 1034.34 L921.72 1033.75 L920.33 1033.17 L918.94 1032.58 L917.56 1032.00 L915.72 1031.21 L913.89 1030.43 L912.07 1029.65 L910.25 1028.87 L908.44 1028.09 L906.63 1027.31 L904.83 1026.53 L903.03 1025.75 L901.24 1024.96 L899.46 1024.18 L897.68 1023.40 L895.91 1022.62 L894.14 1021.84 L892.38 1021.06 L890.62 1020.28 L888.87 1019.49 L887.13 1018.71 L885.39 1017.93 L883.65 1017.15 L881.93 1016.37 L880.20 1015.59 L878.49 1014.81 L876.78 1014.03 L875.07 1013.24 L873.37 1012.46 L871.67 1011.68 L869.98 1010.90 L868.30 1010.12 L866.62 1009.34 L864.94 1008.56 L863.27 1007.77 L861.61 1006.99 L859.95 1006.21 L858.30 1005.43 L857.47 1005.04" stroke="#48CA86"/>
<path d="M730.14 936.48 L728.54 935.50 L726.96 934.52 L725.37 933.55 L723.80 932.57 L722.22 931.59 L720.66 930.62 L719.10 929.64 L717.54 928.66 L715.99 927.69 L714.44 926.71 L712.90 925.73 L711.37 924.76 L709.84 923.78 L708.31 922.80 L706.79 921.83 L705.28 920.85 L703.77 919.87 L702.26 918.90 L700.76 917.92 L699.27 916.94 L697.78 915.97 L696.29 914.99 L694.81 914.01 L693.34 913.04 L691.87 912.06 L690.40 911.08 L688.94 910.11 L687.48 909.13 L686.03 908.15 L684.59 907.18 L683.15 906.20 L681.71 905.22 L680.28 904.25 L678.85 903.27 L677.43 902.29 L676.01 901.32 L674.59 900.34 L673.19 899.36 L671.78 898.39 L670.38 897.41 L668.99 896.43 L667.60 895.46 L666.21 894.48 L664.83 893.50 L663.45 892.53 L662.08 891.55 L660.71 890.57 L659.35 889.60 L657.99 888.62 L656.63 887.64 L655.28 886.67 L653.93 885.69 L652.59 884.71 L651.25 883.74 L649.92 882.76 L648.59 881.78 L647.27 880.81 L645.95 879.83 L644.63 878.85 L643.32 877.88 L642.01 876.90 L640.71 875.92 L639.41 874.95 L638.11 873.97 L636.82 872.99 L635.53 872.02 L634.25 871.04 L632.97 870.06 L631.70 869.09 L630.42 868.11 L629.16 867.13 L627.90 866.16 L626.64 865.18 L625.38 864.20 L624.13 863.23 L622.89 862.25 L621.64 861.27 L620.41 860.30 L619.17 859.32 L617.94 858.34 L616.71 857.37 L615.49 856.39 L614.27 855.41 L613.06 854.44 L611.85 853.46 L610.64 852.48 L609.44 851.51 L608.24 850.53 L607.05 849.55 L605.85 848.58 L604.67 847.60 L603.48 846.62 L602.30 845.65 L601.13 844.67 L599.96 843.69 L598.79 842.72 L597.62 841.74 L596.46 840.76 L595.31 839.79 L594.15 838.81 L593.01 837.83 L591.86 836.86 L590.72 835.88 L589.35 834.71 L588.00 833.54 L586.64 832.37 L585.29 831.19 L583.95 830.02 L582.61 828.85 L581.28 827.68 L579.95 826.51 L578.63 825.33 L577.32 824.16 L576.01 822.99 L574.70 821.82 L573.40 820.65 L572.11 819.47 L570.82 818.30 L569.53 817.13 L568.25 815.96 L566.98 814.79 L565.71 813.61 L564.45 812.44 L563.19 811.27 L561.94 810.10 L560.69 808.93 L559.45 807.75 L558.22 806.58 L556.98 805.41 L555.76 804.24 L554.54 803.07 L553.32 801.89 L552.11 800.72 L550.91 799.55 L549.71 798.38 L548.51 797.21 L547.33 796.03 L546.14 794.86 L544.96 793.69 L543.79 792.52 L542.62 791.35 L541.46 790.17 L540.30 789.00 L539.15 787.83 L538.00 786.66 L536.86 785.49 L535.72 784.31 L534.59 783.14 L533.46 781.97 L532.34 780.80 L531.23 779.63 L530.11 778.45 L529.01 777.28 L527.91 776.11 L526.81 774.94 L525.72 773.77 L524.64 772.59 L523.56 771.42 L522.48 770.25 L521.41 769.08 L520.35 767.91 L519.29 766.73 L518.23 765.56 L517.19 764.39 L516.14 763.22 L515.10 762.05 L514.07 760.87 L513.04 759.70 L512.02 758.53 L511.00 757.36 L509.98 756.19 L508.98 755.01 L507.97 753.84 L506.97 752.67 L505.98 751.50 L504.99 750.33 L504.01 749.15 L503.03 747.98 L502.06 746.81 L501.09 745.64 L500.13 744.47 L499.17 743.29 L498.22 742.12 L497.27 740.95 L496.32 739.78 L495.39 738.61 L494.30 737.24 L493.22 735.87 L492.14 734.50 L491.07 733.14 L490.01 731.77 L488.96 730.40 L487.91 729.03 L486.87 727.67 L485.83 726.30 L484.80 724.93 L483.78 723.56 L482.77 722.20 L481.76 720.83 L480.75 719.46 L479.76 718.10 L478.77 716.73 L477.79 715.36 L476.81 713.99 L475.84 712.63 L474.87 711.26 L473.92 709.89 L472.97 708.52 L472.02 707.16 L471.08 705.79 L470.15 704.42 L469.22 703.05 L468.30 701.69 L467.39 700.32 L466.48 698.95 L465.58 697.59 L464.68 696.22 L463.79 694.85 L462.91 693.48 L462.03 692.12 L461.16 690.75 L460.29 689.38 L459.43 688.01 L458.57 686.65 L457.73 685.28 L456.88 683.91 L456.05 682.54 L455.21 681.18 L454.39 679.81 L453.57 678.44 L452.75 677.08 L451.94 675.71 L451.14 674.34 L450.34 672.97 L449.55 671.61 L448.76 670.24 L447.98 668.87 L447.20 667.50 L446.43 666.14 L445.67 664.77 L444.91 663.40 L444.15 662.03 L443.40 660.67 L442.66 659.30 L441.92 657.93 L441.18 656.57 L440.45 655.20 L439.73 653.83 L439.01 652.46 L438.30 651.10 L437.59 649.73 L436.88 648.36 L436.18 646.99 L435.49 645.63 L434.80 644.26 L434.11 642.89 L433.43 641.52 L432.76 640.16 L432.09 638.79 L431.42 637.42 L430.76 636.06 L430.10 634.69 L429.45 633.32 L428.80 631.95 L428.16 630.59 L427.52 629.22 L426.88 627.85 L426.25 626.48 L425.63 625.12 L425.01 623.75 L424.39 622.38 L423.69 620.82 L422.99 619.26 L422.30 617.69 L421.62 616.13 L420.94 614.57 L420.27 613.01 L419.60 611.44 L418.94 609.88 L418.28 608.32 L417.63 606.76 L416.98 605.19 L416.34 603.63 L415.70 602.07 L415.07 600.50 L414.44 598.94 L413.82 597.38 L413.20 595.82 L412.59 594.25 L411.98 592.69 L411.37 591.13 L410.78 589.57 L410.18 588.00 L409.59 586.44 L409.01 584.88 L408.42 583.32 L407.85 581.75 L407.28 580.19 L406.71 578.63 L406.15 577.06 L405.59 575.50 L405.03 573.94 L404.48 572.38 L403.93 570.81 L403.39 569.25 L402.85 567.69 L402.32 566.13 L401.79 564.56 L401.26 563.00 L400.74 561.44 L400.22 559.88 L399.71 558.31 L399.20 556.75 L398.88 555.77" stroke="#48CA86"/>
<path d="M365.17 415.52 L364.90 413.96 L364.62 412.40 L364.35 410.84 L364.08 409.27 L363.81 407.71 L363.55 406.15 L363.28 404.59 L363.02 403.02 L362.76 401.46 L362.50 399.90 L362.24 398.33 L361.98 396.77 L361.73 395.21 L361.47 393.65 L361.22 392.08 L360.97 390.52 L360.72 388.96 L360.47 387.40 L360.23 385.83 L359.98 384.27 L359.74 382.71 L359.49 381.15 L359.25 379.58 L359.01 378.02 L358.78 376.46 L358.54 374.89 L358.30 373.33 L358.07 371.77 L357.84 370.21 L357.61 368.64 L357.38 367.08 L357.15 365.52 L356.92 363.96 L356.69 362.39 L356.47 360.83 L356.25 359.27 L356.02 357.71 L355.80 356.14 L355.58 354.58 L355.36 353.02 L355.15 351.45 L354.93 349.89 L354.72 348.33 L354.50 346.77 L354.29 345.20 L354.08 343.64 L353.87 342.08 L353.66 340.52 L353.45 338.95 L353.24 337.39 L353.04 335.83 L352.83 334.27 L352.63 332.70 L352.43 331.14 L352.23 329.58 L352.03 328.01 L351.83 326.45 L351.63 324.89 L351.43 323.33 L351.24 321.76 L351.04 320.20 L350.85 318.64 L350.66 317.08 L350.47 315.51 L350.27 313.95 L350.09 312.39 L349.90 310.83 L349.71 309.26 L349.52 307.70 L349.34 306.14 L349.15 304.57 L348.97 303.01 L348.79 301.45 L348.60 299.89 L348.42 298.32 L348.24 296.76 L348.06 295.20 L347.89 293.64 L347.71 292.07 L347.53 290.51 L347.36 288.95 L347.18 287.39 L347.01 285.82 L346.84 284.26 L346.67 282.70 L346.50 281.13 L346.33 279.57 L346.16 278.01 L345.99 276.45 L345.82 274.88 L345.65 273.32 L345.49 271.76 L345.32 270.20 L345.16 268.63 L345.00 267.07 L344.84 265.51 L344.67 263.95 L344.51 262.38 L344.35 260.82 L344.19 259.26 L344.04 257.69 L343.88 256.13 L343.72 254.57 L343.57 253.01 L343.41 251.44 L343.26 249.88 L343.10 248.32 L342.95 246.76 L342.80 245.19 L342.65 243.63 L342.49 242.07 L342.34 240.51 L342.20 238.94 L342.05 237.38 L341.90 235.82 L341.75 234.25 L341.61 232.69 L341.46 231.13 L341.31 229.57 L341.17 228.00 L341.03 226.44 L340.88 224.88 L340.74 223.32 L340.60 221.75 L340.46 220.19 L340.32 218.63 L340.18 217.07 L340.04 215.50 L339.90 213.94 L339.76 212.38 L339.63 210.81 L339.49 209.25 L339.36 207.69 L339.22 206.13 L339.09 204.56 L338.95 203.00 L338.82 201.44 L338.69 199.88 L338.55 198.31 L338.42 196.75 L338.29 195.19 L338.16 193.63 L338.03 192.06 L337.90 190.50 L337.78 188.94 L337.65 187.37 L337.52 185.81 L337.39 184.25 L337.27 182.69 L337.14 181.12 L337.02 179.56 L336.89 178.00 L336.77 176.44 L336.65 174.87 L336.52 173.31 L336.40 171.75 L336.28 170.19 L336.16 168.62 L336.04 167.06 L335.92 165.50 L335.80 163.93 L335.68 162.37 L335.56 160.81 L335.45 159.25 L335.33 157.68 L335.21 156.12 L335.09 154.56 L334.98 153.00 L334.86 151.43 L334.75 149.87 L334.64 148.31 L334.52 146.75 L334.41 145.18 L334.30 143.62 L334.18 142.06 L334.07 140.49 L333.96 138.93 L333.85 137.37 L333.74 135.81 L333.63 134.24 L333.52 132.68 L333.41 131.12 L333.30 129.56 L333.19 127.99 L333.09 126.43 L332.98 124.87 L332.87 123.31 L332.77 121.74 L332.66 120.18 L332.56 118.62 L332.45 117.05 L332.35 115.49 L332.24 113.93 L332.14 112.37 L332.04 110.80 L331.93 109.24 L331.83 107.68 L331.73 106.12 L331.63 104.55 L331.53 102.99 L331.43 101.43 L331.33 99.87 L331.23 98.30 L331.13 96.74 L331.03 95.18 L330.93 93.61 L330.83 92.05 L330.74 90.49 L330.64 88.93 L330.54 87.36 L330.45 85.80 L330.35 84.24 L330.26 82.68 L330.16 81.11 L330.07 79.55 L329.97 77.99 L329.88 76.43 L329.78 74.86 L329.69 73.30 L329.60 71.74 L329.50 70.17 L329.41 68.61 L329.32 67.05 L329.23 65.49 L329.14 63.92 L329.05 62.36 L328.96 60.80 L328.87 59.24 L328.78 57.67 L328.69 56.11 L328.60 54.55 L328.51 52.99 L328.42 51.42 L328.34 49.86 L328.25 48.30 L328.16 46.73 L328.07 45.17 L328.01 44.00" stroke="#48CA86"/>
<path d="M1256.41 1216.00 L1254.46 1215.61 L1252.52 1215.22 L1250.58 1214.83 L1248.65 1214.44 L1246.72 1214.05 L1244.80 1213.66 L1242.88 1213.27 L1240.97 1212.87 L1239.06 1212.48 L1237.16 1212.09 L1235.26 1211.70 L1233.37 1211.31 L1231.48 1210.92 L1229.60 1210.53 L1227.73 1210.14 L1225.85 1209.75 L1223.99 1209.36 L1222.12 1208.97 L1220.27 1208.58 L1218.41 1208.19 L1216.57 1207.80 L1214.72 1207.41 L1212.88 1207.01 L1211.05 1206.62 L1209.22 1206.23 L1207.40 1205.84 L1205.58 1205.45 L1203.76 1205.06 L1201.95 1204.67 L1200.15 1204.28 L1198.35 1203.89 L1196.55 1203.50 L1194.76 1203.11 L1192.97 1202.72 L1191.19 1202.33 L1189.41 1201.94 L1187.64 1201.55 L1185.87 1201.15 L1184.11 1200.76 L1182.35 1200.37 L1180.59 1199.98 L1178.84 1199.59 L1177.09 1199.20 L1175.35 1198.81 L1174.48 1198.62" stroke="#ECB936"/>
<path d="M1033.28 1163.26 L1031.18 1162.67 L1029.09 1162.09 L1027.01 1161.50 L1024.93 1160.92 L1022.87 1160.33 L1020.80 1159.74 L1018.75 1159.16 L1016.70 1158.57 L1014.66 1157.99 L1012.62 1157.40 L1010.59 1156.81 L1008.57 1156.23 L1006.56 1155.64 L1004.55 1155.06 L1002.55 1154.47 L1000.55 1153.88 L998.57 1153.30 L996.58 1152.71 L994.61 1152.13 L992.64 1151.54 L990.68 1150.95 L988.72 1150.37 L986.77 1149.78 L984.83 1149.20 L982.89 1148.61 L980.96 1148.02 L979.04 1147.44 L977.12 1146.85 L975.21 1146.27 L973.30 1145.68 L971.40 1145.09 L969.51 1144.51 L967.62 1143.92 L965.74 1143.34 L963.87 1142.75 L962.00 1142.16 L960.13 1141.58 L958.28 1140.99 L956.42 1140.41 L954.58 1139.82 L952.74 1139.23 L950.91 1138.65 L949.08 1138.06 L947.25 1137.48 L945.44 1136.89 L943.63 1136.30 L941.82 1135.72 L940.02 1135.13 L938.23 1134.55 L936.44 1133.96 L934.66 1133.37 L932.88 1132.79 L931.11 1132.20 L929.34 1131.62 L927.58 1131.03 L925.83 1130.44 L924.08 1129.86 L922.33 1129.27 L920.59 1128.69 L918.86 1128.10 L917.13 1127.51 L915.41 1126.93 L913.69 1126.34 L911.98 1125.76 L910.27 1125.17 L908.57 1124.58 L906.87 1124.00 L905.18 1123.41 L903.49 1122.83 L901.81 1122.24 L900.14 1121.65 L898.46 1121.07 L896.80 1120.48 L895.14 1119.90 L893.48 1119.31 L891.83 1118.72 L890.18 1118.14 L888.54 1117.55 L886.90 1116.97 L885.27 1116.38 L883.65 1115.79 L882.02 1115.21 L880.41 1114.62 L878.79 1114.04 L877.19 1113.45 L875.58 1112.86 L873.99 1112.28 L872.39 1111.69 L870.80 1111.11 L869.22 1110.52 L867.64 1109.93 L866.07 1109.35 L864.50 1108.76 L862.93 1108.18 L861.37 1107.59 L859.81 1107.00 L858.26 1106.42 L856.71 1105.83 L855.17 1105.25 L853.63 1104.66 L852.10 1104.07 L850.57 1103.49 L849.04 1102.90 L847.52 1102.32 L846.01 1101.73 L844.50 1101.14 L842.99 1100.56 L841.49 1099.97 L839.99 1099.39 L838.49 1098.80 L837.00 1098.21 L835.51 1097.63 L834.03 1097.04 L832.56 1096.46 L831.08 1095.87 L829.61 1095.28 L828.15 1094.70 L826.69 1094.11 L825.23 1093.53 L823.78 1092.94 L822.33 1092.35 L820.88 1091.77 L819.44 1091.18 L818.01 1090.60 L816.57 1090.01 L815.14 1089.42 L813.72 1088.84 L812.30 1088.25 L810.88 1087.67 L809.47 1087.08 L808.06 1086.49 L806.66 1085.91 L805.25 1085.32 L803.86 1084.74 L802.46 1084.15 L801.07 1083.56 L799.69 1082.98 L798.31 1082.39 L796.47 1081.61 L794.64 1080.83 L792.82 1080.05 L791.00 1079.27 L789.19 1078.49 L787.39 1077.70 L785.59 1076.92 L783.80 1076.14 L782.02 1075.36 L780.24 1074.58 L778.47 1073.80 L776.70 1073.02 L774.94 1072.23 L773.19 1071.45 L771.45 1070.67 L769.71 1069.89 L767.97 1069.11 L766.25 1068.33 L764.52 1067.55 L762.81 1066.77 L761.10 1065.98 L759.40 1065.20 L757.70 1064.42 L756.01 1063.64 L754.32 1062.86 L752.64 1062.08 L750.97 1061.30 L749.30 1060.51 L747.64 1059.73 L745.98 1058.95 L744.33 1058.17 L742.69 1057.39 L741.05 1056.61 L739.42 1055.83 L737.79 1055.05 L736.17 1054.26 L734.55 1053.48 L732.94 1052.70 L731.33 1051.92 L729.73 1051.14 L728.14 1050.36 L726.55 1049.58 L724.97 1048.79 L723.39 1048.01 L721.81 1047.23 L720.25 1046.45 L718.68 1045.67 L717.13 1044.89 L715.58 1044.11 L714.03 1043.33 L712.49 1042.54 L710.95 1041.76 L709.42 1040.98 L707.89 1040.20 L706.37 1039.42 L704.86 1038.64 L703.34 1037.86 L701.84 1037.07 L700.34 1036.29 L698.84 1035.51 L697.35 1034.73 L695.86 1033.95 L694.38 1033.17 L692.91 1032.39 L691.43 1031.61 L689.97 1030.82 L688.51 1030.04 L687.05 1029.26 L685.60 1028.48 L684.15 1027.70 L682.70 1026.92 L681.27 1026.14 L679.83 1025.35 L678.40 1024.57 L676.98 1023.79 L675.56 1023.01 L674.14 1022.23 L672.73 1021.45 L671.33 1020.67 L669.92 1019.89 L668.53 1019.10 L667.13 1018.32 L665.74 1017.54 L664.36 1016.76 L662.98 1015.98 L661.61 1015.20 L660.23 1014.42 L658.87 1013.63 L657.50 1012.85 L656.15 1012.07 L654.79 1011.29 L653.44 1010.51 L652.10 1009.73 L650.76 1008.95 L649.42 1008.17 L648.09 1007.38 L646.76 1006.60 L645.43 1005.82 L644.11 1005.04 L642.80 1004.26 L641.48 1003.48 L640.18 1002.70 L638.87 1001.91 L637.57 1001.13 L636.28 1000.35 L634.98 999.57 L633.69 998.79 L632.41 998.01 L630.81 997.03 L629.22 996.05 L627.63 995.08 L626.05 994.10 L624.47 993.12 L622.90 992.15 L621.34 991.17 L619.78 990.19 L618.23 989.22 L616.68 988.24 L615.14 987.26 L613.61 986.29 L612.08 985.31 L610.55 984.33 L609.04 983.36 L607.52 982.38 L606.02 981.40 L604.52 980.43 L603.02 979.45 L601.53 978.47 L600.05 977.50 L598.57 976.52 L597.10 975.54 L595.63 974.57 L594.17 973.59 L592.71 972.61 L591.26 971.64 L589.81 970.66 L588.37 969.68 L586.93 968.71 L585.50 967.73 L584.08 966.75 L582.66 965.78 L581.24 964.80 L579.83 963.82 L578.42 962.85 L577.02 961.87 L575.63 960.89 L574.24 959.92 L572.85 958.94 L571.47 957.96 L570.10 956.99 L568.73 956.01 L567.36 955.03 L566.00 954.06 L565.46 953.67" stroke="#ECB936"/>
<path d="M455.47 860.49 L454.31 859.32 L453.16 858.15 L452.01 856.98 L450.87 855.81 L449.73 854.63 L448.60 853.46 L447.47 852.29 L446.35 851.12 L445.24 849.95 L444.13 848.77 L443.02 847.60 L441.92 846.43 L440.83 845.26 L439.74 844.09 L438.65 842.91 L437.57 841.74 L436.50 840.57 L435.43 839.40 L434.36 838.23 L433.31 837.05 L432.25 835.88 L431.20 834.71 L430.16 833.54 L429.12 832.37 L428.09 831.19 L427.06 830.02 L426.04 828.85 L425.02 827.68 L424.01 826.51 L423.01 825.33 L422.00 824.16 L421.01 822.99 L420.02 821.82 L419.03 820.65 L418.05 819.47 L417.07 818.30 L416.10 817.13 L415.14 815.96 L414.18 814.79 L413.22 813.61 L412.27 812.44 L411.32 811.27 L410.38 810.10 L409.29 808.73 L408.21 807.36 L407.13 806.00 L406.06 804.63 L405.00 803.26 L403.94 801.89 L402.89 800.53 L401.85 799.16 L400.82 797.79 L399.79 796.42 L398.77 795.06 L397.75 793.69 L396.74 792.32 L395.74 790.95 L394.74 789.59 L393.76 788.22 L392.77 786.85 L391.80 785.49 L390.83 784.12 L389.87 782.75 L388.91 781.38 L387.96 780.02 L387.02 778.65 L386.08 777.28 L385.16 775.91 L384.23 774.55 L383.32 773.18 L382.41 771.81 L381.50 770.44 L380.60 769.08 L379.71 767.71 L378.83 766.34 L377.95 764.98 L377.08 763.61 L376.21 762.24 L375.35 760.87 L374.50 759.51 L373.65 758.14 L372.81 756.77 L371.97 755.40 L371.14 754.04 L370.32 752.67 L369.50 751.30 L368.69 749.93 L367.89 748.57 L367.09 747.20 L366.29 745.83 L365.50 744.47 L364.72 743.10 L363.94 741.73 L363.17 740.36 L362.41 739.00 L361.65 737.63 L360.89 736.26 L360.15 734.89 L359.40 733.53 L358.67 732.16 L357.93 730.79 L357.21 729.42 L356.49 728.06 L355.77 726.69 L355.06 725.32 L354.35 723.96 L353.65 722.59 L352.96 721.22 L352.27 719.85 L351.59 718.49 L350.91 717.12 L350.23 715.75 L349.56 714.38 L348.90 713.02 L348.24 711.65 L347.58 710.28 L346.94 708.91 L346.29 707.55 L345.65 706.18 L345.02 704.81 L344.39 703.45 L343.76 702.08 L343.14 700.71 L342.44 699.15 L341.74 697.59 L341.05 696.02 L340.36 694.46 L339.68 692.90 L339.00 691.33 L338.34 689.77 L337.67 688.21 L337.01 686.65 L336.36 685.08 L335.72 683.52 L335.08 681.96 L334.44 680.40 L333.81 678.83 L333.18 677.27 L332.57 675.71 L331.95 674.15 L331.34 672.58 L330.74 671.02 L330.14 669.46 L329.54 667.89 L328.96 666.33 L328.37 664.77 L327.79 663.21 L327.22 661.64 L326.65 660.08 L326.08 658.52 L325.52 656.96 L324.97 655.39 L324.42 653.83 L323.87 652.27 L323.33 650.71 L322.79 649.14 L322.26 647.58 L321.73 646.02 L321.21 644.45 L320.69 642.89 L320.17 641.33 L319.66 639.77 L319.15 638.20 L318.65 636.64 L318.15 635.08 L317.65 633.52 L317.16 631.95 L316.67 630.39 L316.19 628.83 L315.71 627.27 L315.24 625.70 L314.76 624.14 L314.30 622.58 L313.83 621.01 L313.37 619.45 L312.92 617.89 L312.46 616.33 L312.01 614.76 L311.57 613.20 L311.12 611.64 L310.68 610.08 L310.25 608.51 L309.82 606.95 L309.39 605.39 L308.96 603.83 L308.54 602.26 L308.12 600.70 L307.70 599.14 L307.29 597.57 L306.88 596.01 L306.48 594.45 L306.07 592.89 L305.67 591.32 L305.28 589.76 L304.88 588.20 L304.49 586.64 L304.10 585.07 L303.72 583.51 L303.34 581.95 L302.96 580.39 L302.58 578.82 L302.21 577.26 L301.84 575.70 L301.47 574.13 L301.10 572.57 L300.74 571.01 L300.38 569.45 L300.02 567.88 L299.67 566.32 L299.32 564.76 L298.97 563.20 L298.62 561.63 L298.27 560.07 L297.93 558.51 L297.59 556.95 L297.26 555.38 L296.92 553.82 L296.59 552.26 L296.26 550.69 L295.93 549.13 L295.61 547.57 L295.28 546.01 L294.96 544.44 L294.65 542.88 L294.33 541.32 L294.02 539.76 L293.70 538.19 L293.40 536.63 L293.09 535.07 L292.78 533.51 L292.48 531.94 L292.18 530.38 L291.88 528.82 L291.59 527.25 L291.29 525.69 L291.00 524.13 L290.71 522.57 L290.42 521.00 L290.13 519.44 L289.85 517.88 L289.57 516.32 L289.29 514.75 L289.01 513.19 L288.73 511.63 L288.45 510.07 L288.18 508.50 L287.91 506.94 L287.64 505.38 L287.37 503.81 L287.11 502.25 L286.84 500.69 L286.58 499.13 L286.32 497.56 L286.06 496.00 L285.80 494.44 L285.55 492.88 L285.29 491.31 L285.04 489.75 L284.79 488.19 L284.54 486.63 L284.30 485.06 L284.05 483.50 L283.81 481.94 L283.56 480.37 L283.32 478.81 L283.08 477.25 L282.84 475.69 L282.61 474.12 L282.37 472.56 L282.14 471.00 L281.91 469.44 L281.68 467.87 L281.45 466.31 L281.22 464.75 L281.00 463.19 L280.77 461.62 L280.55 460.06 L280.33 458.50 L280.11 456.93 L279.89 455.37 L279.67 453.81 L279.45 452.25 L279.24 450.68 L279.02 449.12 L278.81 447.56 L278.60 446.00 L278.39 444.43 L278.18 442.87 L277.97 441.31 L277.77 439.75 L277.56 438.18 L277.36 436.62 L277.16 435.06 L276.96 433.49 L276.76 431.93 L276.56 430.37 L276.36 428.81 L276.16 427.24 L275.97 425.68 L275.77 424.12 L275.58 422.56 L275.39 420.99 L275.20 419.43 L275.01 417.87 L274.82 416.31 L274.63 414.74 L274.45 413.18 L274.26 411.62 L274.08 410.05 L273.90 408.49 L273.71 406.93 L273.53 405.37 L273.35 403.80 L273.17 402.24 L273.00 400.68 L272.82 399.12 L272.64 397.55 L272.47 395.99 L272.30 394.43 L272.12 392.87 L271.95 391.30 L271.78 389.74" stroke="#ECB936"/>
<path d="M259.40 246.17 L259.30 244.61 L259.19 243.04 L259.09 241.48 L258.98 239.92 L258.88 238.36 L258.78 236.79 L258.67 235.23 L258.57 233.67 L258.47 232.11 L258.37 230.54 L258.27 228.98 L258.17 227.42 L258.07 225.86 L257.97 224.29 L257.87 222.73 L257.77 221.17 L257.67 219.60 L257.57 218.04 L257.47 216.48 L257.38 214.92 L257.28 213.35 L257.18 211.79 L257.09 210.23 L256.99 208.67 L256.90 207.10 L256.80 205.54 L256.71 203.98 L256.62 202.42 L256.52 200.85 L256.43 199.29 L256.34 197.73 L256.25 196.16 L256.16 194.60 L256.07 193.04 L255.97 191.48 L255.88 189.91 L255.79 188.35 L255.70 186.79 L255.62 185.23 L255.53 183.66 L255.44 182.10 L255.35 180.54 L255.26 178.98 L255.18 177.41 L255.09 175.85 L255.00 174.29 L254.92 172.72 L254.83 171.16 L254.75 169.60 L254.66 168.04 L254.58 166.47 L254.49 164.91 L254.41 163.35 L254.33 161.79 L254.24 160.22 L254.16 158.66 L254.08 157.10 L254.00 155.54 L253.91 153.97 L253.83 152.41 L253.75 150.85 L253.67 149.28 L253.59 147.72 L253.51 146.16 L253.43 144.60 L253.35 143.03 L253.27 141.47 L253.19 139.91 L253.12 138.35 L253.04 136.78 L252.96 135.22 L252.88 133.66 L252.81 132.10 L252.73 130.53 L252.65 128.97 L252.58 127.41 L252.50 125.84 L252.43 124.28 L252.35 122.72 L252.28 121.16 L252.20 119.59 L252.13 118.03 L252.05 116.47 L251.98 114.91 L251.91 113.34 L251.83 111.78 L251.76 110.22 L251.69 108.66 L251.62 107.09 L251.54 105.53 L251.47 103.97 L251.40 102.40 L251.33 100.84 L251.26 99.28 L251.19 97.72 L251.12 96.15 L251.05 94.59 L250.98 93.03 L250.91 91.47 L250.84 89.90 L250.77 88.34 L250.71 86.78 L250.64 85.22 L250.57 83.65 L250.50 82.09 L250.43 80.53 L250.37 78.96 L250.30 77.40 L250.23 75.84 L250.17 74.28 L250.10 72.71 L250.04 71.15 L249.97 69.59 L249.91 68.03 L249.84 66.46 L249.78 64.90 L249.71 63.34 L249.65 61.78 L249.58 60.21 L249.52 58.65 L249.46 57.09 L249.39 55.52 L249.33 53.96 L249.27 52.40 L249.20 50.84 L249.14 49.27 L249.08 47.71 L249.02 46.15 L248.96 44.59 L248.93 44.00" stroke="#ECB936"/>
<path d="M1012.84 1216.00 L1011.21 1215.61 L1009.59 1215.22 L1007.98 1214.83 L1006.37 1214.44 L1004.76 1214.05 L1003.16 1213.66 L1001.56 1213.27 L999.97 1212.87 L998.38 1212.48 L996.80 1212.09 L995.21 1211.70 L993.64 1211.31 L992.06 1210.92 L990.50 1210.53 L988.93 1210.14 L987.37 1209.75 L985.82 1209.36 L984.26 1208.97 L982.71 1208.58 L981.17 1208.19 L979.63 1207.80 L978.09 1207.41 L976.56 1207.01 L975.03 1206.62 L973.51 1206.23 L971.99 1205.84 L970.47 1205.45 L968.96 1205.06 L967.45 1204.67 L965.95 1204.28 L964.45 1203.89 L962.95 1203.50 L962.20 1203.30" stroke="#F8FA0D"/>
<path d="M823.95 1162.28 L822.21 1161.70 L820.48 1161.11 L818.76 1160.53 L817.03 1159.94 L815.32 1159.35 L813.61 1158.77 L811.91 1158.18 L810.21 1157.60 L808.52 1157.01 L806.83 1156.42 L805.15 1155.84 L803.47 1155.25 L801.80 1154.67 L800.14 1154.08 L798.48 1153.49 L796.83 1152.91 L795.18 1152.32 L793.53 1151.74 L791.90 1151.15 L790.27 1150.56 L788.64 1149.98 L787.02 1149.39 L785.40 1148.81 L783.79 1148.22 L782.18 1147.63 L780.58 1147.05 L778.99 1146.46 L777.40 1145.88 L775.81 1145.29 L774.23 1144.70 L772.66 1144.12 L771.09 1143.53 L769.53 1142.95 L767.97 1142.36 L766.41 1141.77 L764.86 1141.19 L763.32 1140.60 L761.78 1140.02 L760.24 1139.43 L758.71 1138.84 L757.19 1138.26 L755.67 1137.67 L754.15 1137.09 L752.64 1136.50 L751.13 1135.91 L749.63 1135.33 L748.13 1134.74 L746.64 1134.16 L745.15 1133.57 L743.67 1132.98 L742.19 1132.40 L740.72 1131.81 L739.25 1131.23 L737.79 1130.64 L736.33 1130.05 L734.87 1129.47 L733.42 1128.88 L731.97 1128.30 L730.53 1127.71 L729.09 1127.12 L727.66 1126.54 L726.23 1125.95 L724.81 1125.37 L723.39 1124.78 L721.97 1124.19 L720.56 1123.61 L719.15 1123.02 L717.75 1122.44 L716.35 1121.85 L714.96 1121.26 L713.57 1120.68 L712.18 1120.09 L710.80 1119.51 L708.96 1118.72 L707.13 1117.94 L705.31 1117.16 L703.50 1116.38 L701.69 1115.60 L699.89 1114.82 L698.10 1114.04 L696.31 1113.25 L694.53 1112.47 L692.76 1111.69 L691.00 1110.91 L689.24 1110.13 L687.49 1109.35 L685.75 1108.57 L684.01 1107.79 L682.28 1107.00 L680.55 1106.22 L678.84 1105.44 L677.13 1104.66 L675.42 1103.88 L673.72 1103.10 L672.03 1102.32 L670.35 1101.53 L668.67 1100.75 L667.00 1099.97 L665.34 1099.19 L663.68 1098.41 L662.02 1097.63 L660.38 1096.85 L658.74 1096.07 L657.10 1095.28 L655.48 1094.50 L653.86 1093.72 L652.24 1092.94 L650.63 1092.16 L649.03 1091.38 L647.43 1090.60 L645.84 1089.81 L644.25 1089.03 L642.67 1088.25 L641.10 1087.47 L639.53 1086.69 L637.97 1085.91 L636.41 1085.13 L634.86 1084.35 L633.32 1083.56 L631.78 1082.78 L630.25 1082.00 L628.72 1081.22 L627.20 1080.44 L625.68 1079.66 L624.17 1078.88 L622.66 1078.09 L621.16 1077.31 L619.67 1076.53 L618.18 1075.75 L616.69 1074.97 L615.21 1074.19 L613.74 1073.41 L612.27 1072.63 L610.81 1071.84 L609.35 1071.06 L607.90 1070.28 L606.45 1069.50 L605.01 1068.72 L603.57 1067.94 L602.14 1067.16 L600.71 1066.37 L599.29 1065.59 L597.87 1064.81 L596.46 1064.03 L595.05 1063.25 L593.65 1062.47 L592.25 1061.69 L590.86 1060.91 L589.47 1060.12 L588.09 1059.34 L586.71 1058.56 L585.34 1057.78 L583.97 1057.00 L582.61 1056.22 L581.25 1055.44 L579.89 1054.65 L578.54 1053.87 L577.20 1053.09 L575.86 1052.31 L574.52 1051.53 L573.19 1050.75 L571.86 1049.97 L570.54 1049.19 L569.22 1048.40 L567.91 1047.62 L566.60 1046.84 L565.30 1046.06 L564.00 1045.28 L562.70 1044.50 L561.41 1043.72 L560.12 1042.93 L558.84 1042.15 L557.24 1041.18 L555.65 1040.20 L554.07 1039.22 L552.49 1038.25 L550.92 1037.27 L549.35 1036.29 L547.80 1035.32 L546.24 1034.34 L544.70 1033.36 L543.16 1032.39 L541.63 1031.41 L540.10 1030.43 L538.58 1029.46 L537.07 1028.48 L535.56 1027.50 L534.06 1026.53 L532.56 1025.55 L531.07 1024.57 L529.59 1023.60 L528.11 1022.62 L526.64 1021.64 L525.17 1020.67 L523.71 1019.69 L522.26 1018.71 L520.81 1017.74 L519.37 1016.76 L517.93 1015.78 L516.50 1014.81 L515.07 1013.83 L513.65 1012.85 L512.24 1011.88 L510.83 1010.90 L509.43 1009.92 L508.03 1008.95 L506.64 1007.97 L505.25 1006.99 L503.87 1006.02 L502.49 1005.04 L501.12 1004.06 L499.76 1003.09 L498.40 1002.11 L497.04 1001.13 L495.69 1000.16 L494.35 999.18 L493.01 998.20 L491.68 997.23 L490.35 996.25 L489.02 995.27 L487.70 994.30 L486.39 993.32 L485.08 992.34 L483.78 991.37 L482.48 990.39 L481.18 989.41 L479.89 988.44 L478.61 987.46 L477.33 986.48 L476.06 985.51 L474.79 984.53 L473.52 983.55 L472.26 982.58 L471.01 981.60 L469.75 980.62 L468.51 979.65 L467.27 978.67 L466.03 977.69 L464.80 976.72 L463.57 975.74 L462.35 974.76 L461.13 973.79 L459.91 972.81 L458.70 971.83 L457.50 970.86 L456.30 969.88 L455.10 968.90 L453.91 967.93 L452.72 966.95 L451.54 965.97 L450.36 965.00 L449.19 964.02 L448.02 963.04 L446.85 962.07 L445.69 961.09 L444.53 960.11 L443.38 959.14 L442.23 958.16 L441.09 957.18 L439.95 956.21 L438.59 955.03 L437.23 953.86 L435.88 952.69 L434.53 951.52 L433.19 950.35 L431.86 949.17 L430.53 948.00 L429.21 946.83 L427.90 945.66 L426.59 944.49 L425.28 943.31 L423.99 942.14 L422.69 940.97 L421.41 939.80 L420.13 938.63 L418.85 937.45 L417.58 936.28 L416.32 935.11 L415.06 933.94 L413.81 932.77 L412.56 931.59 L411.32 930.42 L410.08 929.25 L408.85 928.08 L407.63 926.91 L406.41 925.73 L405.20 924.56 L403.99 923.39 L402.79 922.22 L401.59 921.05 L400.40 919.87 L399.21 918.70 L398.03 917.53 L396.85 916.36 L395.68 915.19 L394.52 914.01 L393.36 912.84 L392.20 911.67 L391.06 910.50 L389.91 909.33 L388.77 908.15 L387.64 906.98 L386.51 905.81 L385.39 904.64 L384.28 903.47 L383.16 902.29 L382.98 902.10" stroke="#F8FA0D"/>
<path d="M298.27 786.07 L297.54 784.70 L296.83 783.34 L296.12 781.97 L295.41 780.60 L294.71 779.23 L294.02 777.87 L293.33 776.50 L292.65 775.13 L291.97 773.77 L291.30 772.40 L290.63 771.03 L289.97 769.66 L289.31 768.30 L288.66 766.93 L288.01 765.56 L287.37 764.19 L286.74 762.83 L286.11 761.46 L285.48 760.09 L284.86 758.72 L284.16 757.16 L283.46 755.60 L282.77 754.04 L282.08 752.47 L281.40 750.91 L280.73 749.35 L280.06 747.79 L279.40 746.22 L278.75 744.66 L278.10 743.10 L277.46 741.54 L276.82 739.97 L276.19 738.41 L275.57 736.85 L274.95 735.28 L274.33 733.72 L273.72 732.16 L273.12 730.60 L272.52 729.03 L271.93 727.47 L271.34 725.91 L270.76 724.35 L270.19 722.78 L269.61 721.22 L269.05 719.66 L268.49 718.10 L267.93 716.53 L267.38 714.97 L266.83 713.41 L266.29 711.84 L265.75 710.28 L265.22 708.72 L264.70 707.16 L264.17 705.59 L263.65 704.03 L263.14 702.47 L262.63 700.91 L262.13 699.34 L261.63 697.78 L261.13 696.22 L260.64 694.66 L260.15 693.09 L259.67 691.53 L259.19 689.97 L258.72 688.40 L258.24 686.84 L257.78 685.28 L257.32 683.72 L256.86 682.15 L256.40 680.59 L255.95 679.03 L255.50 677.47 L255.06 675.90 L254.62 674.34 L254.19 672.78 L253.75 671.22 L253.33 669.65 L252.90 668.09 L252.48 666.53 L252.06 664.96 L251.65 663.40 L251.24 661.84 L250.83 660.28 L250.43 658.71 L250.02 657.15 L249.63 655.59 L249.23 654.03 L248.84 652.46 L248.45 650.90 L248.07 649.34 L247.69 647.78 L247.31 646.21 L246.94 644.65 L246.56 643.09 L246.19 641.52 L245.83 639.96 L245.47 638.40 L245.10 636.84 L244.75 635.27 L244.39 633.71 L244.04 632.15 L243.69 630.59 L243.35 629.02 L243.00 627.46 L242.66 625.90 L242.32 624.34 L241.99 622.77 L241.66 621.21 L241.33 619.65 L241.00 618.08 L240.67 616.52 L240.35 614.96 L240.03 613.40 L239.71 611.83 L239.40 610.27 L239.08 608.71 L238.77 607.15 L238.47 605.58 L238.16 604.02 L237.86 602.46 L237.56 600.90 L237.26 599.33 L236.96 597.77 L236.67 596.21 L236.37 594.64 L236.08 593.08 L235.80 591.52 L235.51 589.96 L235.23 588.39 L234.95 586.83 L234.67 585.27 L234.39 583.71 L234.11 582.14 L233.84 580.58 L233.57 579.02 L233.30 577.46 L233.03 575.89 L232.77 574.33 L232.50 572.77 L232.24 571.20 L231.98 569.64 L231.72 568.08 L231.47 566.52 L231.21 564.95 L230.96 563.39 L230.71 561.83 L230.46 560.27 L230.21 558.70 L229.97 557.14 L229.73 555.58 L229.48 554.02 L229.24 552.45 L229.01 550.89 L228.77 549.33 L228.53 547.76 L228.30 546.20 L228.07 544.64 L227.84 543.08 L227.61 541.51 L227.38 539.95 L227.16 538.39 L226.93 536.83 L226.71 535.26 L226.49 533.70 L226.27 532.14 L226.05 530.58 L225.83 529.01 L225.62 527.45 L225.40 525.89 L225.19 524.32 L224.98 522.76 L224.77 521.20 L224.56 519.64 L224.36 518.07 L224.15 516.51 L223.95 514.95 L223.74 513.39 L223.54 511.82 L223.34 510.26 L223.14 508.70 L222.95 507.14 L222.75 505.57 L222.55 504.01 L222.36 502.45 L222.17 500.88 L221.98 499.32 L221.79 497.76 L221.60 496.20 L221.41 494.63 L221.22 493.07 L221.04 491.51 L220.85 489.95 L220.67 488.38 L220.49 486.82 L220.31 485.26 L220.13 483.70 L219.95 482.13 L219.77 480.57 L219.60 479.01 L219.42 477.44 L219.25 475.88 L219.08 474.32 L218.90 472.76 L218.73 471.19 L218.56 469.63 L218.39 468.07 L218.23 466.51 L218.06 464.94 L217.89 463.38 L217.73 461.82 L217.57 460.26 L217.40 458.69 L217.24 457.13 L217.08 455.57 L216.92 454.00 L216.76 452.44 L216.61 450.88 L216.45 449.32 L216.29 447.75 L216.14 446.19 L215.98 444.63 L215.83 443.07 L215.68 441.50 L215.53 439.94 L215.38 438.38 L215.23 436.82 L215.08 435.25 L214.93 433.69 L214.78 432.13 L214.64 430.56 L214.49 429.00 L214.35 427.44 L214.20 425.88 L214.06 424.31 L213.92 422.75 L213.78 421.19 L213.64 419.63 L213.50 418.06 L213.36 416.50 L213.22 414.94 L213.08 413.38 L212.95 411.81 L212.81 410.25 L212.67 408.69 L212.54 407.12 L212.41 405.56 L212.27 404.00 L212.14 402.44 L212.01 400.87 L211.88 399.31 L211.75 397.75 L211.62 396.19 L211.49 394.62 L211.36 393.06 L211.24 391.50 L211.11 389.94 L210.99 388.37 L210.86 386.81 L210.74 385.25 L210.61 383.68 L210.49 382.12 L210.37 380.56 L210.25 379.00 L210.13 377.43 L210.01 375.87 L209.89 374.31 L209.77 372.75 L209.65 371.18 L209.53 369.62 L209.41 368.06 L209.30 366.50 L209.18 364.93 L209.07 363.37 L208.95 361.81 L208.84 360.24 L208.72 358.68 L208.61 357.12 L208.50 355.56 L208.39 353.99 L208.28 352.43 L208.17 350.87 L208.06 349.31 L207.95 347.74 L207.84 346.18 L207.73 344.62 L207.62 343.06 L207.51 341.49 L207.41 339.93 L207.30 338.37 L207.20 336.80 L207.09 335.24 L206.99 333.68 L206.88 332.12 L206.78 330.55 L206.68 328.99 L206.57 327.43 L206.47 325.87 L206.37 324.30 L206.27 322.74 L206.17 321.18 L206.07 319.62 L205.97 318.05 L205.87 316.49 L205.77 314.93 L205.68 313.36 L205.58 311.80 L205.48 310.24 L205.39 308.68 L205.29 307.11 L205.19 305.55 L205.10 303.99 L205.00 302.43 L204.91 300.86 L204.82 299.30 L204.72 297.74 L204.63 296.18 L204.54 294.61 L204.45 293.05 L204.36 291.49 L204.26 289.92 L204.17 288.36 L204.08 286.80 L203.99 285.24 L203.91 283.67 L203.84 282.50" stroke="#F8FA0D"/>
<path d="M197.16 138.35 L197.10 136.78 L197.04 135.22 L196.98 133.66 L196.92 132.10 L196.86 130.53 L196.81 128.97 L196.75 127.41 L196.69 125.84 L196.64 124.28 L196.58 122.72 L196.52 121.16 L196.47 119.59 L196.41 118.03 L196.35 116.47 L196.30 114.91 L196.24 113.34 L196.19 111.78 L196.13 110.22 L196.08 108.66 L196.02 107.09 L195.97 105.53 L195.92 103.97 L195.86 102.40 L195.81 100.84 L195.75 99.28 L195.70 97.72 L195.65 96.15 L195.59 94.59 L195.54 93.03 L195.49 91.47 L195.44 89.90 L195.39 88.34 L195.33 86.78 L195.28 85.22 L195.23 83.65 L195.18 82.09 L195.13 80.53 L195.08 78.96 L195.03 77.40 L194.98 75.84 L194.93 74.28 L194.88 72.71 L194.83 71.15 L194.78 69.59 L194.73 68.03 L194.68 66.46 L194.63 64.90 L194.58 63.34 L194.53 61.78 L194.48 60.21 L194.43 58.65 L194.39 57.09 L194.34 55.52 L194.29 53.96 L194.24 52.40 L194.20 50.84 L194.15 49.27 L194.10 47.71 L194.05 46.15 L194.01 44.59 L193.99 44.00" stroke="#F8FA0D"/>
</g>
<g font-family="Liberation Sans, Arial, sans-serif" font-size="45.8" fill="#000" text-anchor="middle" filter="url(#bin)">
<g transform="translate(1527.80 257.51) rotate(40.69) scale(1 1.060)"><text y="17.85">0.001</text><path d="M34.15 13.57H42.91V18.65H34.15Z M47.99 13.57H56.75V18.65H47.99Z" fill="#fff" stroke="none"/></g>
<text transform="translate(882.40 511.46) rotate(47.67) scale(1 1.060)" y="17.85">0.002</text>
<text transform="translate(1438.94 856.75) rotate(21.62) scale(1 1.060)" y="17.85">0.002</text>
<text transform="translate(493.70 343.22) rotate(77.16) scale(1 1.060)" y="17.85">0.003</text>
<text transform="translate(881.10 851.01) rotate(31.17) scale(1 1.060)" y="17.85">0.003</text>
<text transform="translate(1494.26 1088.12) rotate(13.90) scale(1 1.060)" y="17.85">0.003</text>
<text transform="translate(379.33 485.07) rotate(76.49) scale(1 1.060)" y="17.85">0.004</text>
<text transform="translate(791.77 971.85) rotate(28.30) scale(1 1.060)" y="17.85">0.004</text>
<text transform="translate(1416.27 1178.65) rotate(11.51) scale(1 1.060)" y="17.85">0.004</text>
<text transform="translate(263.17 316.36) rotate(85.07) scale(1 1.060)" y="17.85">0.005</text>
<text transform="translate(507.61 908.55) rotate(40.28) scale(1 1.060)" y="17.85">0.005</text>
<text transform="translate(1102.42 1181.53) rotate(14.06) scale(1 1.060)" y="17.85">0.005</text>
<text transform="translate(198.60 209.23) rotate(87.35) scale(1 1.060)" y="17.85">0.006</text>
<text transform="translate(335.98 846.05) rotate(53.87) scale(1 1.060)" y="17.85">0.006</text>
<text transform="translate(891.53 1183.62) rotate(16.53) scale(1 1.060)" y="17.85">0.006</text>
</g>
<g font-family="Liberation Serif, Times New Roman, serif" font-size="56" fill="#262626" stroke="#262626" stroke-width="0.9" filter="url(#bin)">
<text x="166.00" y="1282.8" text-anchor="middle">10</text>
<text x="352.50" y="1282.8" text-anchor="middle">15</text>
<text x="539.00" y="1282.8" text-anchor="middle">20</text>
<text x="725.50" y="1282.8" text-anchor="middle">25</text>
<text x="912.00" y="1282.8" text-anchor="middle">30</text>
<text x="1098.50" y="1282.8" text-anchor="middle">35</text>
<text x="1285.00" y="1282.8" text-anchor="middle">40</text>
<text x="1471.50" y="1282.8" text-anchor="middle">45</text>
<text x="1658.00" y="1282.8" text-anchor="middle">50</text>
<text x="146.4" y="1230.20" text-anchor="end">2</text>
<text x="146.4" y="1083.70" text-anchor="end">3</text>
<text x="146.4" y="937.20" text-anchor="end">4</text>
<text x="146.4" y="790.70" text-anchor="end">5</text>
<text x="146.4" y="644.20" text-anchor="end">6</text>
<text x="146.4" y="497.70" text-anchor="end">7</text>
<text x="146.4" y="351.20" text-anchor="end">8</text>
<text x="146.4" y="204.70" text-anchor="end">9</text>
<text x="146.4" y="58.20" text-anchor="end">10</text>
</g>
<g font-family="Liberation Serif, Times New Roman, serif" font-size="67" fill="#262626" stroke="#262626" stroke-width="0.9" filter="url(#bin)">
<text x="694.1" y="1360.7" textLength="160.5" lengthAdjust="spacingAndGlyphs">Water</text>
<text x="874.9" y="1360.7" textLength="153.0" lengthAdjust="spacingAndGlyphs">depth</text>
<text transform="translate(1051.2 1364.5) scale(0.607 1.12)">[</text>
<text transform="translate(1064 1360.7) scale(1 0.92)">m</text>
<text transform="translate(1114.0 1364.5) scale(0.587 1.12)">]</text>
<g transform="translate(56.5 836) rotate(-90)">
<text x="0" y="0" textLength="144.7" lengthAdjust="spacingAndGlyphs">Wave</text>
<text x="162.1" y="0" textLength="172.6" lengthAdjust="spacingAndGlyphs">Period</text>
<text transform="translate(358.9 5.2) scale(0.613 1.12)">[</text>
<text transform="translate(369.6 0) scale(1.07 0.91)">s</text>
<text transform="translate(395.6 5.2) scale(0.633 1.12)">]</text>
</g>
</g>
</svg>
</body></html>
